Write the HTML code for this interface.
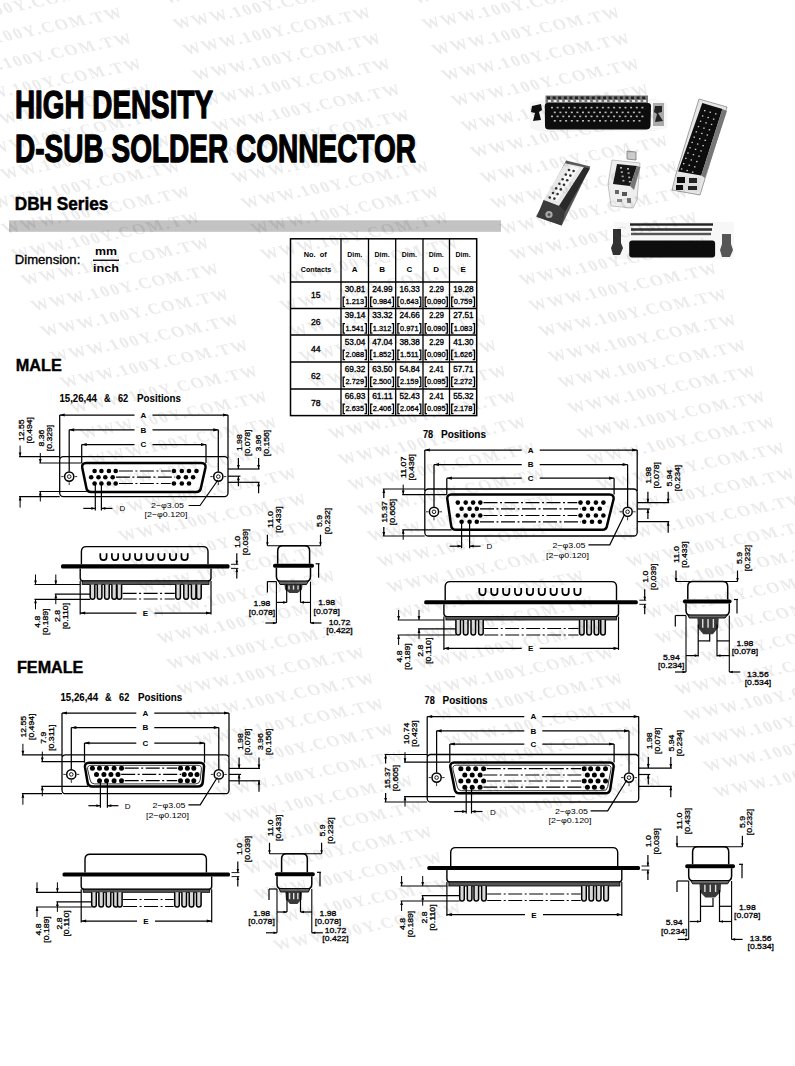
<!DOCTYPE html>
<html><head><meta charset="utf-8"><style>
html,body{margin:0;padding:0;background:#fff;width:795px;height:1066px;overflow:hidden}
</style></head><body><svg width="795" height="1066" viewBox="0 0 795 1066" style="position:absolute;left:0;top:0"><g stroke="#000" stroke-width="1.3" stroke-linejoin="round"><text x="15" y="117.5" style='font-family:"Liberation Sans";font-size:38px;font-weight:bold' text-anchor="start" fill="#000" textLength="198" lengthAdjust="spacingAndGlyphs" >HIGH DENSITY</text><text x="15" y="162" style='font-family:"Liberation Sans";font-size:39px;font-weight:bold' text-anchor="start" fill="#000" textLength="401" lengthAdjust="spacingAndGlyphs" >D-SUB SOLDER CONNECTOR</text></g><g stroke="#000" stroke-width="0.5"><text x="14.8" y="210" style='font-family:"Liberation Sans";font-size:18.5px;font-weight:bold' text-anchor="start" fill="#000" textLength="93.5" lengthAdjust="spacingAndGlyphs" >DBH Series</text></g><rect x="9" y="220.3" width="492" height="11.5" fill="#c3c3c3"/><text x="14.8" y="264" style='font-family:"Liberation Sans";font-size:12.5px;font-weight:normal' text-anchor="start" fill="#000" textLength="65.5" lengthAdjust="spacingAndGlyphs" stroke="#000" stroke-width="0.35">Dimension:</text><text x="95" y="254.8" style='font-family:"Liberation Sans";font-size:10.5px;font-weight:bold' text-anchor="start" fill="#000" textLength="22" lengthAdjust="spacingAndGlyphs" >mm</text><rect x="93" y="259.6" width="26" height="1.3" fill="#000"/><text x="93" y="271.7" style='font-family:"Liberation Sans";font-size:11.5px;font-weight:bold' text-anchor="start" fill="#000" textLength="26" lengthAdjust="spacingAndGlyphs" >inch</text><g stroke="#000" stroke-width="0.4"><text x="15.8" y="371" style='font-family:"Liberation Sans";font-size:17px;font-weight:bold' text-anchor="start" fill="#000" textLength="46" lengthAdjust="spacingAndGlyphs" >MALE</text><text x="17" y="672.7" style='font-family:"Liberation Sans";font-size:17px;font-weight:bold' text-anchor="start" fill="#000" textLength="66.4" lengthAdjust="spacingAndGlyphs" >FEMALE</text></g><text x="59.4" y="402.2" style='font-family:"Liberation Sans";font-size:11px;font-weight:bold' text-anchor="start" fill="#000" textLength="37.6" lengthAdjust="spacingAndGlyphs" stroke="#000" stroke-width="0.1">15,26,44</text><text x="104" y="402.2" style='font-family:"Liberation Sans";font-size:11px;font-weight:bold' text-anchor="start" fill="#000" textLength="6.5" lengthAdjust="spacingAndGlyphs" stroke="#000" stroke-width="0.1">&amp;</text><text x="118" y="402.2" style='font-family:"Liberation Sans";font-size:11px;font-weight:bold' text-anchor="start" fill="#000" textLength="10.2" lengthAdjust="spacingAndGlyphs" stroke="#000" stroke-width="0.1">62</text><text x="137" y="402.2" style='font-family:"Liberation Sans";font-size:11px;font-weight:bold' text-anchor="start" fill="#000" textLength="44" lengthAdjust="spacingAndGlyphs" stroke="#000" stroke-width="0.1">Positions</text><text x="60.5" y="700.6" style='font-family:"Liberation Sans";font-size:11px;font-weight:bold' text-anchor="start" fill="#000" textLength="37.6" lengthAdjust="spacingAndGlyphs" stroke="#000" stroke-width="0.1">15,26,44</text><text x="105.1" y="700.6" style='font-family:"Liberation Sans";font-size:11px;font-weight:bold' text-anchor="start" fill="#000" textLength="6.5" lengthAdjust="spacingAndGlyphs" stroke="#000" stroke-width="0.1">&amp;</text><text x="119.1" y="700.6" style='font-family:"Liberation Sans";font-size:11px;font-weight:bold' text-anchor="start" fill="#000" textLength="10.2" lengthAdjust="spacingAndGlyphs" stroke="#000" stroke-width="0.1">62</text><text x="138.1" y="700.6" style='font-family:"Liberation Sans";font-size:11px;font-weight:bold' text-anchor="start" fill="#000" textLength="44" lengthAdjust="spacingAndGlyphs" stroke="#000" stroke-width="0.1">Positions</text><text x="423" y="437.6" style='font-family:"Liberation Sans";font-size:11px;font-weight:bold' text-anchor="start" fill="#000" textLength="10.2" lengthAdjust="spacingAndGlyphs" stroke="#000" stroke-width="0.1">78</text><text x="441" y="437.6" style='font-family:"Liberation Sans";font-size:11px;font-weight:bold' text-anchor="start" fill="#000" textLength="45" lengthAdjust="spacingAndGlyphs" stroke="#000" stroke-width="0.1">Positions</text><text x="424.6" y="704.2" style='font-family:"Liberation Sans";font-size:11px;font-weight:bold' text-anchor="start" fill="#000" textLength="10.2" lengthAdjust="spacingAndGlyphs" stroke="#000" stroke-width="0.1">78</text><text x="442.6" y="704.2" style='font-family:"Liberation Sans";font-size:11px;font-weight:bold' text-anchor="start" fill="#000" textLength="45" lengthAdjust="spacingAndGlyphs" stroke="#000" stroke-width="0.1">Positions</text><rect x="290.5" y="238.8" width="186.2" height="176.8" fill="none" stroke="#000" stroke-width="1.5"/><line x1="341" y1="238.8" x2="341" y2="415.6" stroke="#000" stroke-width="1.3"/><line x1="368.5" y1="238.8" x2="368.5" y2="415.6" stroke="#000" stroke-width="1.3"/><line x1="395.7" y1="238.8" x2="395.7" y2="415.6" stroke="#000" stroke-width="1.3"/><line x1="423" y1="238.8" x2="423" y2="415.6" stroke="#000" stroke-width="1.3"/><line x1="449.5" y1="238.8" x2="449.5" y2="415.6" stroke="#000" stroke-width="1.3"/><line x1="290.5" y1="282" x2="476.7" y2="282" stroke="#000" stroke-width="1.3"/><line x1="290.5" y1="308.5" x2="476.7" y2="308.5" stroke="#000" stroke-width="1.3"/><line x1="290.5" y1="335" x2="476.7" y2="335" stroke="#000" stroke-width="1.3"/><line x1="290.5" y1="362" x2="476.7" y2="362" stroke="#000" stroke-width="1.3"/><line x1="290.5" y1="389" x2="476.7" y2="389" stroke="#000" stroke-width="1.3"/><text x="315.25" y="256.6" style='font-family:"Liberation Sans";font-size:8px;font-weight:bold' text-anchor="middle" fill="#000" textLength="23" lengthAdjust="spacingAndGlyphs" >No.&#160;&#160;of</text><text x="316.05" y="271.6" style='font-family:"Liberation Sans";font-size:8px;font-weight:bold' text-anchor="middle" fill="#000" textLength="30.5" lengthAdjust="spacingAndGlyphs" >Contacts</text><text x="354.75" y="256.6" style='font-family:"Liberation Sans";font-size:8px;font-weight:bold' text-anchor="middle" fill="#000" textLength="15" lengthAdjust="spacingAndGlyphs" >Dim.</text><text x="354.75" y="271.6" style='font-family:"Liberation Sans";font-size:8px;font-weight:bold' text-anchor="middle" fill="#000" >A</text><text x="382.1" y="256.6" style='font-family:"Liberation Sans";font-size:8px;font-weight:bold' text-anchor="middle" fill="#000" textLength="15" lengthAdjust="spacingAndGlyphs" >Dim.</text><text x="382.1" y="271.6" style='font-family:"Liberation Sans";font-size:8px;font-weight:bold' text-anchor="middle" fill="#000" >B</text><text x="409.35" y="256.6" style='font-family:"Liberation Sans";font-size:8px;font-weight:bold' text-anchor="middle" fill="#000" textLength="15" lengthAdjust="spacingAndGlyphs" >Dim.</text><text x="409.35" y="271.6" style='font-family:"Liberation Sans";font-size:8px;font-weight:bold' text-anchor="middle" fill="#000" >C</text><text x="436.25" y="256.6" style='font-family:"Liberation Sans";font-size:8px;font-weight:bold' text-anchor="middle" fill="#000" textLength="15" lengthAdjust="spacingAndGlyphs" >Dim.</text><text x="436.25" y="271.6" style='font-family:"Liberation Sans";font-size:8px;font-weight:bold' text-anchor="middle" fill="#000" >D</text><text x="463.1" y="256.6" style='font-family:"Liberation Sans";font-size:8px;font-weight:bold' text-anchor="middle" fill="#000" textLength="15" lengthAdjust="spacingAndGlyphs" >Dim.</text><text x="463.1" y="271.6" style='font-family:"Liberation Sans";font-size:8px;font-weight:bold' text-anchor="middle" fill="#000" >E</text><text x="315.75" y="298.45" style='font-family:"Liberation Sans";font-size:8.6px;font-weight:normal' text-anchor="middle" fill="#000" stroke="#000" stroke-width="0.35">15</text><text x="355.05" y="291.8" style='font-family:"Liberation Sans";font-size:8.2px;font-weight:normal' text-anchor="middle" fill="#000" textLength="20.5" lengthAdjust="spacingAndGlyphs" stroke="#000" stroke-width="0.35">30.81</text><text x="354.75" y="304" style='font-family:"Liberation Sans";font-size:7.2px;font-weight:normal' text-anchor="middle" fill="#000" textLength="18.5" lengthAdjust="spacingAndGlyphs" stroke="#000" stroke-width="0.3">1.213</text><path d="M345,297.2 L343.2,297.2 L343.2,306.6 L345,306.6" stroke="#000" stroke-width="1.3" fill="none" /><path d="M364.5,297.2 L366.3,297.2 L366.3,306.6 L364.5,306.6" stroke="#000" stroke-width="1.3" fill="none" /><text x="382.4" y="291.8" style='font-family:"Liberation Sans";font-size:8.2px;font-weight:normal' text-anchor="middle" fill="#000" textLength="20.5" lengthAdjust="spacingAndGlyphs" stroke="#000" stroke-width="0.35">24.99</text><text x="382.1" y="304" style='font-family:"Liberation Sans";font-size:7.2px;font-weight:normal' text-anchor="middle" fill="#000" textLength="18.5" lengthAdjust="spacingAndGlyphs" stroke="#000" stroke-width="0.3">0.984</text><path d="M372.5,297.2 L370.7,297.2 L370.7,306.6 L372.5,306.6" stroke="#000" stroke-width="1.3" fill="none" /><path d="M391.7,297.2 L393.5,297.2 L393.5,306.6 L391.7,306.6" stroke="#000" stroke-width="1.3" fill="none" /><text x="409.65" y="291.8" style='font-family:"Liberation Sans";font-size:8.2px;font-weight:normal' text-anchor="middle" fill="#000" textLength="20.5" lengthAdjust="spacingAndGlyphs" stroke="#000" stroke-width="0.35">16.33</text><text x="409.35" y="304" style='font-family:"Liberation Sans";font-size:7.2px;font-weight:normal' text-anchor="middle" fill="#000" textLength="18.5" lengthAdjust="spacingAndGlyphs" stroke="#000" stroke-width="0.3">0.643</text><path d="M399.7,297.2 L397.9,297.2 L397.9,306.6 L399.7,306.6" stroke="#000" stroke-width="1.3" fill="none" /><path d="M419,297.2 L420.8,297.2 L420.8,306.6 L419,306.6" stroke="#000" stroke-width="1.3" fill="none" /><text x="436.55" y="291.8" style='font-family:"Liberation Sans";font-size:8.2px;font-weight:normal' text-anchor="middle" fill="#000" textLength="14.5" lengthAdjust="spacingAndGlyphs" stroke="#000" stroke-width="0.35">2.29</text><text x="436.25" y="304" style='font-family:"Liberation Sans";font-size:7.2px;font-weight:normal' text-anchor="middle" fill="#000" textLength="18.5" lengthAdjust="spacingAndGlyphs" stroke="#000" stroke-width="0.3">0.090</text><path d="M427,297.2 L425.2,297.2 L425.2,306.6 L427,306.6" stroke="#000" stroke-width="1.3" fill="none" /><path d="M445.5,297.2 L447.3,297.2 L447.3,306.6 L445.5,306.6" stroke="#000" stroke-width="1.3" fill="none" /><text x="463.4" y="291.8" style='font-family:"Liberation Sans";font-size:8.2px;font-weight:normal' text-anchor="middle" fill="#000" textLength="20.5" lengthAdjust="spacingAndGlyphs" stroke="#000" stroke-width="0.35">19.28</text><text x="463.1" y="304" style='font-family:"Liberation Sans";font-size:7.2px;font-weight:normal' text-anchor="middle" fill="#000" textLength="18.5" lengthAdjust="spacingAndGlyphs" stroke="#000" stroke-width="0.3">0.759</text><path d="M453.5,297.2 L451.7,297.2 L451.7,306.6 L453.5,306.6" stroke="#000" stroke-width="1.3" fill="none" /><path d="M472.7,297.2 L474.5,297.2 L474.5,306.6 L472.7,306.6" stroke="#000" stroke-width="1.3" fill="none" /><text x="315.75" y="324.95" style='font-family:"Liberation Sans";font-size:8.6px;font-weight:normal' text-anchor="middle" fill="#000" stroke="#000" stroke-width="0.35">26</text><text x="355.05" y="318.3" style='font-family:"Liberation Sans";font-size:8.2px;font-weight:normal' text-anchor="middle" fill="#000" textLength="20.5" lengthAdjust="spacingAndGlyphs" stroke="#000" stroke-width="0.35">39.14</text><text x="354.75" y="330.5" style='font-family:"Liberation Sans";font-size:7.2px;font-weight:normal' text-anchor="middle" fill="#000" textLength="18.5" lengthAdjust="spacingAndGlyphs" stroke="#000" stroke-width="0.3">1.541</text><path d="M345,323.7 L343.2,323.7 L343.2,333.1 L345,333.1" stroke="#000" stroke-width="1.3" fill="none" /><path d="M364.5,323.7 L366.3,323.7 L366.3,333.1 L364.5,333.1" stroke="#000" stroke-width="1.3" fill="none" /><text x="382.4" y="318.3" style='font-family:"Liberation Sans";font-size:8.2px;font-weight:normal' text-anchor="middle" fill="#000" textLength="20.5" lengthAdjust="spacingAndGlyphs" stroke="#000" stroke-width="0.35">33.32</text><text x="382.1" y="330.5" style='font-family:"Liberation Sans";font-size:7.2px;font-weight:normal' text-anchor="middle" fill="#000" textLength="18.5" lengthAdjust="spacingAndGlyphs" stroke="#000" stroke-width="0.3">1.312</text><path d="M372.5,323.7 L370.7,323.7 L370.7,333.1 L372.5,333.1" stroke="#000" stroke-width="1.3" fill="none" /><path d="M391.7,323.7 L393.5,323.7 L393.5,333.1 L391.7,333.1" stroke="#000" stroke-width="1.3" fill="none" /><text x="409.65" y="318.3" style='font-family:"Liberation Sans";font-size:8.2px;font-weight:normal' text-anchor="middle" fill="#000" textLength="20.5" lengthAdjust="spacingAndGlyphs" stroke="#000" stroke-width="0.35">24.66</text><text x="409.35" y="330.5" style='font-family:"Liberation Sans";font-size:7.2px;font-weight:normal' text-anchor="middle" fill="#000" textLength="18.5" lengthAdjust="spacingAndGlyphs" stroke="#000" stroke-width="0.3">0.971</text><path d="M399.7,323.7 L397.9,323.7 L397.9,333.1 L399.7,333.1" stroke="#000" stroke-width="1.3" fill="none" /><path d="M419,323.7 L420.8,323.7 L420.8,333.1 L419,333.1" stroke="#000" stroke-width="1.3" fill="none" /><text x="436.55" y="318.3" style='font-family:"Liberation Sans";font-size:8.2px;font-weight:normal' text-anchor="middle" fill="#000" textLength="14.5" lengthAdjust="spacingAndGlyphs" stroke="#000" stroke-width="0.35">2.29</text><text x="436.25" y="330.5" style='font-family:"Liberation Sans";font-size:7.2px;font-weight:normal' text-anchor="middle" fill="#000" textLength="18.5" lengthAdjust="spacingAndGlyphs" stroke="#000" stroke-width="0.3">0.090</text><path d="M427,323.7 L425.2,323.7 L425.2,333.1 L427,333.1" stroke="#000" stroke-width="1.3" fill="none" /><path d="M445.5,323.7 L447.3,323.7 L447.3,333.1 L445.5,333.1" stroke="#000" stroke-width="1.3" fill="none" /><text x="463.4" y="318.3" style='font-family:"Liberation Sans";font-size:8.2px;font-weight:normal' text-anchor="middle" fill="#000" textLength="20.5" lengthAdjust="spacingAndGlyphs" stroke="#000" stroke-width="0.35">27.51</text><text x="463.1" y="330.5" style='font-family:"Liberation Sans";font-size:7.2px;font-weight:normal' text-anchor="middle" fill="#000" textLength="18.5" lengthAdjust="spacingAndGlyphs" stroke="#000" stroke-width="0.3">1.083</text><path d="M453.5,323.7 L451.7,323.7 L451.7,333.1 L453.5,333.1" stroke="#000" stroke-width="1.3" fill="none" /><path d="M472.7,323.7 L474.5,323.7 L474.5,333.1 L472.7,333.1" stroke="#000" stroke-width="1.3" fill="none" /><text x="315.75" y="351.7" style='font-family:"Liberation Sans";font-size:8.6px;font-weight:normal' text-anchor="middle" fill="#000" stroke="#000" stroke-width="0.35">44</text><text x="355.05" y="344.8" style='font-family:"Liberation Sans";font-size:8.2px;font-weight:normal' text-anchor="middle" fill="#000" textLength="20.5" lengthAdjust="spacingAndGlyphs" stroke="#000" stroke-width="0.35">53.04</text><text x="354.75" y="357" style='font-family:"Liberation Sans";font-size:7.2px;font-weight:normal' text-anchor="middle" fill="#000" textLength="18.5" lengthAdjust="spacingAndGlyphs" stroke="#000" stroke-width="0.3">2.088</text><path d="M345,350.2 L343.2,350.2 L343.2,359.6 L345,359.6" stroke="#000" stroke-width="1.3" fill="none" /><path d="M364.5,350.2 L366.3,350.2 L366.3,359.6 L364.5,359.6" stroke="#000" stroke-width="1.3" fill="none" /><text x="382.4" y="344.8" style='font-family:"Liberation Sans";font-size:8.2px;font-weight:normal' text-anchor="middle" fill="#000" textLength="20.5" lengthAdjust="spacingAndGlyphs" stroke="#000" stroke-width="0.35">47.04</text><text x="382.1" y="357" style='font-family:"Liberation Sans";font-size:7.2px;font-weight:normal' text-anchor="middle" fill="#000" textLength="18.5" lengthAdjust="spacingAndGlyphs" stroke="#000" stroke-width="0.3">1.852</text><path d="M372.5,350.2 L370.7,350.2 L370.7,359.6 L372.5,359.6" stroke="#000" stroke-width="1.3" fill="none" /><path d="M391.7,350.2 L393.5,350.2 L393.5,359.6 L391.7,359.6" stroke="#000" stroke-width="1.3" fill="none" /><text x="409.65" y="344.8" style='font-family:"Liberation Sans";font-size:8.2px;font-weight:normal' text-anchor="middle" fill="#000" textLength="20.5" lengthAdjust="spacingAndGlyphs" stroke="#000" stroke-width="0.35">38.38</text><text x="409.35" y="357" style='font-family:"Liberation Sans";font-size:7.2px;font-weight:normal' text-anchor="middle" fill="#000" textLength="18.5" lengthAdjust="spacingAndGlyphs" stroke="#000" stroke-width="0.3">1.511</text><path d="M399.7,350.2 L397.9,350.2 L397.9,359.6 L399.7,359.6" stroke="#000" stroke-width="1.3" fill="none" /><path d="M419,350.2 L420.8,350.2 L420.8,359.6 L419,359.6" stroke="#000" stroke-width="1.3" fill="none" /><text x="436.55" y="344.8" style='font-family:"Liberation Sans";font-size:8.2px;font-weight:normal' text-anchor="middle" fill="#000" textLength="14.5" lengthAdjust="spacingAndGlyphs" stroke="#000" stroke-width="0.35">2.29</text><text x="436.25" y="357" style='font-family:"Liberation Sans";font-size:7.2px;font-weight:normal' text-anchor="middle" fill="#000" textLength="18.5" lengthAdjust="spacingAndGlyphs" stroke="#000" stroke-width="0.3">0.090</text><path d="M427,350.2 L425.2,350.2 L425.2,359.6 L427,359.6" stroke="#000" stroke-width="1.3" fill="none" /><path d="M445.5,350.2 L447.3,350.2 L447.3,359.6 L445.5,359.6" stroke="#000" stroke-width="1.3" fill="none" /><text x="463.4" y="344.8" style='font-family:"Liberation Sans";font-size:8.2px;font-weight:normal' text-anchor="middle" fill="#000" textLength="20.5" lengthAdjust="spacingAndGlyphs" stroke="#000" stroke-width="0.35">41.30</text><text x="463.1" y="357" style='font-family:"Liberation Sans";font-size:7.2px;font-weight:normal' text-anchor="middle" fill="#000" textLength="18.5" lengthAdjust="spacingAndGlyphs" stroke="#000" stroke-width="0.3">1.626</text><path d="M453.5,350.2 L451.7,350.2 L451.7,359.6 L453.5,359.6" stroke="#000" stroke-width="1.3" fill="none" /><path d="M472.7,350.2 L474.5,350.2 L474.5,359.6 L472.7,359.6" stroke="#000" stroke-width="1.3" fill="none" /><text x="315.75" y="378.7" style='font-family:"Liberation Sans";font-size:8.6px;font-weight:normal' text-anchor="middle" fill="#000" stroke="#000" stroke-width="0.35">62</text><text x="355.05" y="371.8" style='font-family:"Liberation Sans";font-size:8.2px;font-weight:normal' text-anchor="middle" fill="#000" textLength="20.5" lengthAdjust="spacingAndGlyphs" stroke="#000" stroke-width="0.35">69.32</text><text x="354.75" y="384" style='font-family:"Liberation Sans";font-size:7.2px;font-weight:normal' text-anchor="middle" fill="#000" textLength="18.5" lengthAdjust="spacingAndGlyphs" stroke="#000" stroke-width="0.3">2.729</text><path d="M345,377.2 L343.2,377.2 L343.2,386.6 L345,386.6" stroke="#000" stroke-width="1.3" fill="none" /><path d="M364.5,377.2 L366.3,377.2 L366.3,386.6 L364.5,386.6" stroke="#000" stroke-width="1.3" fill="none" /><text x="382.4" y="371.8" style='font-family:"Liberation Sans";font-size:8.2px;font-weight:normal' text-anchor="middle" fill="#000" textLength="20.5" lengthAdjust="spacingAndGlyphs" stroke="#000" stroke-width="0.35">63.50</text><text x="382.1" y="384" style='font-family:"Liberation Sans";font-size:7.2px;font-weight:normal' text-anchor="middle" fill="#000" textLength="18.5" lengthAdjust="spacingAndGlyphs" stroke="#000" stroke-width="0.3">2.500</text><path d="M372.5,377.2 L370.7,377.2 L370.7,386.6 L372.5,386.6" stroke="#000" stroke-width="1.3" fill="none" /><path d="M391.7,377.2 L393.5,377.2 L393.5,386.6 L391.7,386.6" stroke="#000" stroke-width="1.3" fill="none" /><text x="409.65" y="371.8" style='font-family:"Liberation Sans";font-size:8.2px;font-weight:normal' text-anchor="middle" fill="#000" textLength="20.5" lengthAdjust="spacingAndGlyphs" stroke="#000" stroke-width="0.35">54.84</text><text x="409.35" y="384" style='font-family:"Liberation Sans";font-size:7.2px;font-weight:normal' text-anchor="middle" fill="#000" textLength="18.5" lengthAdjust="spacingAndGlyphs" stroke="#000" stroke-width="0.3">2.159</text><path d="M399.7,377.2 L397.9,377.2 L397.9,386.6 L399.7,386.6" stroke="#000" stroke-width="1.3" fill="none" /><path d="M419,377.2 L420.8,377.2 L420.8,386.6 L419,386.6" stroke="#000" stroke-width="1.3" fill="none" /><text x="436.55" y="371.8" style='font-family:"Liberation Sans";font-size:8.2px;font-weight:normal' text-anchor="middle" fill="#000" textLength="14.5" lengthAdjust="spacingAndGlyphs" stroke="#000" stroke-width="0.35">2.41</text><text x="436.25" y="384" style='font-family:"Liberation Sans";font-size:7.2px;font-weight:normal' text-anchor="middle" fill="#000" textLength="18.5" lengthAdjust="spacingAndGlyphs" stroke="#000" stroke-width="0.3">0.095</text><path d="M427,377.2 L425.2,377.2 L425.2,386.6 L427,386.6" stroke="#000" stroke-width="1.3" fill="none" /><path d="M445.5,377.2 L447.3,377.2 L447.3,386.6 L445.5,386.6" stroke="#000" stroke-width="1.3" fill="none" /><text x="463.4" y="371.8" style='font-family:"Liberation Sans";font-size:8.2px;font-weight:normal' text-anchor="middle" fill="#000" textLength="20.5" lengthAdjust="spacingAndGlyphs" stroke="#000" stroke-width="0.35">57.71</text><text x="463.1" y="384" style='font-family:"Liberation Sans";font-size:7.2px;font-weight:normal' text-anchor="middle" fill="#000" textLength="18.5" lengthAdjust="spacingAndGlyphs" stroke="#000" stroke-width="0.3">2.272</text><path d="M453.5,377.2 L451.7,377.2 L451.7,386.6 L453.5,386.6" stroke="#000" stroke-width="1.3" fill="none" /><path d="M472.7,377.2 L474.5,377.2 L474.5,386.6 L472.7,386.6" stroke="#000" stroke-width="1.3" fill="none" /><text x="315.75" y="405.5" style='font-family:"Liberation Sans";font-size:8.6px;font-weight:normal' text-anchor="middle" fill="#000" stroke="#000" stroke-width="0.35">78</text><text x="355.05" y="398.8" style='font-family:"Liberation Sans";font-size:8.2px;font-weight:normal' text-anchor="middle" fill="#000" textLength="20.5" lengthAdjust="spacingAndGlyphs" stroke="#000" stroke-width="0.35">66.93</text><text x="354.75" y="411" style='font-family:"Liberation Sans";font-size:7.2px;font-weight:normal' text-anchor="middle" fill="#000" textLength="18.5" lengthAdjust="spacingAndGlyphs" stroke="#000" stroke-width="0.3">2.635</text><path d="M345,404.2 L343.2,404.2 L343.2,413.6 L345,413.6" stroke="#000" stroke-width="1.3" fill="none" /><path d="M364.5,404.2 L366.3,404.2 L366.3,413.6 L364.5,413.6" stroke="#000" stroke-width="1.3" fill="none" /><text x="382.4" y="398.8" style='font-family:"Liberation Sans";font-size:8.2px;font-weight:normal' text-anchor="middle" fill="#000" textLength="20.5" lengthAdjust="spacingAndGlyphs" stroke="#000" stroke-width="0.35">61.11</text><text x="382.1" y="411" style='font-family:"Liberation Sans";font-size:7.2px;font-weight:normal' text-anchor="middle" fill="#000" textLength="18.5" lengthAdjust="spacingAndGlyphs" stroke="#000" stroke-width="0.3">2.406</text><path d="M372.5,404.2 L370.7,404.2 L370.7,413.6 L372.5,413.6" stroke="#000" stroke-width="1.3" fill="none" /><path d="M391.7,404.2 L393.5,404.2 L393.5,413.6 L391.7,413.6" stroke="#000" stroke-width="1.3" fill="none" /><text x="409.65" y="398.8" style='font-family:"Liberation Sans";font-size:8.2px;font-weight:normal' text-anchor="middle" fill="#000" textLength="20.5" lengthAdjust="spacingAndGlyphs" stroke="#000" stroke-width="0.35">52.43</text><text x="409.35" y="411" style='font-family:"Liberation Sans";font-size:7.2px;font-weight:normal' text-anchor="middle" fill="#000" textLength="18.5" lengthAdjust="spacingAndGlyphs" stroke="#000" stroke-width="0.3">2.064</text><path d="M399.7,404.2 L397.9,404.2 L397.9,413.6 L399.7,413.6" stroke="#000" stroke-width="1.3" fill="none" /><path d="M419,404.2 L420.8,404.2 L420.8,413.6 L419,413.6" stroke="#000" stroke-width="1.3" fill="none" /><text x="436.55" y="398.8" style='font-family:"Liberation Sans";font-size:8.2px;font-weight:normal' text-anchor="middle" fill="#000" textLength="14.5" lengthAdjust="spacingAndGlyphs" stroke="#000" stroke-width="0.35">2.41</text><text x="436.25" y="411" style='font-family:"Liberation Sans";font-size:7.2px;font-weight:normal' text-anchor="middle" fill="#000" textLength="18.5" lengthAdjust="spacingAndGlyphs" stroke="#000" stroke-width="0.3">0.095</text><path d="M427,404.2 L425.2,404.2 L425.2,413.6 L427,413.6" stroke="#000" stroke-width="1.3" fill="none" /><path d="M445.5,404.2 L447.3,404.2 L447.3,413.6 L445.5,413.6" stroke="#000" stroke-width="1.3" fill="none" /><text x="463.4" y="398.8" style='font-family:"Liberation Sans";font-size:8.2px;font-weight:normal' text-anchor="middle" fill="#000" textLength="20.5" lengthAdjust="spacingAndGlyphs" stroke="#000" stroke-width="0.35">55.32</text><text x="463.1" y="411" style='font-family:"Liberation Sans";font-size:7.2px;font-weight:normal' text-anchor="middle" fill="#000" textLength="18.5" lengthAdjust="spacingAndGlyphs" stroke="#000" stroke-width="0.3">2.178</text><path d="M453.5,404.2 L451.7,404.2 L451.7,413.6 L453.5,413.6" stroke="#000" stroke-width="1.3" fill="none" /><path d="M472.7,404.2 L474.5,404.2 L474.5,413.6 L472.7,413.6" stroke="#000" stroke-width="1.3" fill="none" /><rect x="59.7" y="456.6" width="168.3" height="40" rx="3.5" fill="none" stroke="#000" stroke-width="1.3"/><path d="M86.2,463 L201.5,463 Q206,463 205.5,467.5 L201,487.5 Q200.5,492 196,492 L91.3,492 Q86.8,492 86.3,487.5 L82.2,467.5 Q81.7,463 86.2,463 Z" stroke="#000" stroke-width="2.5" fill="none" /><circle cx="69.2" cy="476.6" r="4.6" fill="none" stroke="#000" stroke-width="1.5"/><circle cx="69.2" cy="476.6" r="1.8" fill="none" stroke="#000" stroke-width="0.9"/><circle cx="218.3" cy="476.6" r="4.6" fill="none" stroke="#000" stroke-width="1.5"/><circle cx="218.3" cy="476.6" r="1.8" fill="none" stroke="#000" stroke-width="0.9"/><line x1="61.2" y1="476.6" x2="63.7" y2="476.6" stroke="#000" stroke-width="0.8"/><line x1="74.7" y1="476.6" x2="77.2" y2="476.6" stroke="#000" stroke-width="0.8"/><line x1="69.2" y1="482.1" x2="69.2" y2="485.1" stroke="#000" stroke-width="0.8"/><line x1="210.3" y1="476.6" x2="212.8" y2="476.6" stroke="#000" stroke-width="0.8"/><line x1="223.8" y1="476.6" x2="226.3" y2="476.6" stroke="#000" stroke-width="0.8"/><line x1="218.3" y1="482.1" x2="218.3" y2="485.1" stroke="#000" stroke-width="0.8"/><circle cx="94.6" cy="471" r="2.3" fill="#000"/><circle cx="101.4" cy="471" r="2.3" fill="#000"/><circle cx="108.9" cy="471" r="2.3" fill="#000"/><circle cx="115.7" cy="471" r="2.3" fill="#000"/><circle cx="173.9" cy="471" r="2.3" fill="#000"/><circle cx="181.8" cy="471" r="2.3" fill="#000"/><circle cx="189" cy="471" r="2.3" fill="#000"/><circle cx="196.5" cy="471" r="2.3" fill="#000"/><line x1="118.9" y1="471" x2="170.7" y2="471" stroke="#000" stroke-width="1.2" stroke-dasharray="14 2.5 2 2.5"/><circle cx="91.2" cy="477.2" r="2.3" fill="#000"/><circle cx="98.5" cy="477.2" r="2.3" fill="#000"/><circle cx="105.3" cy="477.2" r="2.3" fill="#000"/><circle cx="112.7" cy="477.2" r="2.3" fill="#000"/><circle cx="178.4" cy="477.2" r="2.3" fill="#000"/><circle cx="185.9" cy="477.2" r="2.3" fill="#000"/><circle cx="193.1" cy="477.2" r="2.3" fill="#000"/><line x1="115.9" y1="477.2" x2="175.2" y2="477.2" stroke="#000" stroke-width="1.2" stroke-dasharray="14 2.5 2 2.5"/><circle cx="94.6" cy="483.5" r="2.3" fill="#000"/><circle cx="101.4" cy="483.5" r="2.3" fill="#000"/><circle cx="108.9" cy="483.5" r="2.3" fill="#000"/><circle cx="115.7" cy="483.5" r="2.3" fill="#000"/><circle cx="173.9" cy="483.5" r="2.3" fill="#000"/><circle cx="181.8" cy="483.5" r="2.3" fill="#000"/><circle cx="189" cy="483.5" r="2.3" fill="#000"/><line x1="118.9" y1="483.5" x2="170.7" y2="483.5" stroke="#000" stroke-width="1.2" stroke-dasharray="14 2.5 2 2.5"/><line x1="59.7" y1="415" x2="134.5" y2="415" stroke="#000" stroke-width="1.25"/><line x1="152.5" y1="415" x2="228" y2="415" stroke="#000" stroke-width="1.25"/><path d="M59.7,415 L64.7,413.4 L64.7,416.6 Z" fill="#000"/><path d="M228,415 L223,416.6 L223,413.4 Z" fill="#000"/><text x="143.5" y="417.9" style='font-family:"Liberation Sans";font-size:8px;font-weight:bold' text-anchor="middle" fill="#000" >A</text><line x1="59.7" y1="415" x2="59.7" y2="458.6" stroke="#000" stroke-width="1.25"/><line x1="228" y1="415" x2="228" y2="458.6" stroke="#000" stroke-width="1.25"/><line x1="69.2" y1="429.8" x2="134.5" y2="429.8" stroke="#000" stroke-width="1.25"/><line x1="152.5" y1="429.8" x2="218.3" y2="429.8" stroke="#000" stroke-width="1.25"/><path d="M69.2,429.8 L74.2,428.2 L74.2,431.4 Z" fill="#000"/><path d="M218.3,429.8 L213.3,431.4 L213.3,428.2 Z" fill="#000"/><text x="143.5" y="432.7" style='font-family:"Liberation Sans";font-size:8px;font-weight:bold' text-anchor="middle" fill="#000" >B</text><line x1="69.2" y1="429.8" x2="69.2" y2="471.6" stroke="#000" stroke-width="1.25"/><line x1="218.3" y1="429.8" x2="218.3" y2="471.6" stroke="#000" stroke-width="1.25"/><line x1="81.7" y1="444.5" x2="134.5" y2="444.5" stroke="#000" stroke-width="1.25"/><line x1="152.5" y1="444.5" x2="206" y2="444.5" stroke="#000" stroke-width="1.25"/><path d="M81.7,444.5 L86.7,442.9 L86.7,446.1 Z" fill="#000"/><path d="M206,444.5 L201,446.1 L201,442.9 Z" fill="#000"/><text x="143.5" y="447.4" style='font-family:"Liberation Sans";font-size:8px;font-weight:bold' text-anchor="middle" fill="#000" >C</text><line x1="81.7" y1="444.5" x2="81.7" y2="463" stroke="#000" stroke-width="1.25"/><line x1="206" y1="444.5" x2="206" y2="463" stroke="#000" stroke-width="1.25"/><line x1="19.1" y1="456.6" x2="59.7" y2="456.6" stroke="#000" stroke-width="1.2"/><line x1="19.1" y1="496.6" x2="59.7" y2="496.6" stroke="#000" stroke-width="1.2"/><line x1="39.3" y1="463" x2="81.7" y2="463" stroke="#000" stroke-width="1.2"/><line x1="39.3" y1="491.5" x2="86.8" y2="491.5" stroke="#000" stroke-width="1.2"/><line x1="20.1" y1="445.6" x2="20.1" y2="456.6" stroke="#000" stroke-width="1"/><path d="M20.1,456.6 L18.7,452.6 L21.5,452.6 Z" fill="#000"/><line x1="20.1" y1="496.6" x2="20.1" y2="507.6" stroke="#000" stroke-width="1"/><path d="M20.1,496.6 L21.5,500.6 L18.7,500.6 Z" fill="#000"/><line x1="40.3" y1="453" x2="40.3" y2="463" stroke="#000" stroke-width="1"/><path d="M40.3,463 L38.9,459 L41.7,459 Z" fill="#000"/><line x1="40.3" y1="491.5" x2="40.3" y2="501.5" stroke="#000" stroke-width="1"/><path d="M40.3,491.5 L41.7,495.5 L38.9,495.5 Z" fill="#000"/><g transform="translate(25.3,430.2) rotate(-90)"><text x="0" y="-1.02" style='font-family:"Liberation Sans";font-size:8px;font-weight:normal' text-anchor="middle" fill="#000" textLength="21.62" lengthAdjust="spacingAndGlyphs" stroke="#000" stroke-width="0.3">12.55</text><text x="0" y="6.78" style='font-family:"Liberation Sans";font-size:8px;font-weight:normal' text-anchor="middle" fill="#000" textLength="26.42" lengthAdjust="spacingAndGlyphs" stroke="#000" stroke-width="0.3">[0.494]</text></g><g transform="translate(45,438) rotate(-90)"><text x="0" y="-1.02" style='font-family:"Liberation Sans";font-size:8px;font-weight:normal' text-anchor="middle" fill="#000" textLength="16.81" lengthAdjust="spacingAndGlyphs" stroke="#000" stroke-width="0.3">8.36</text><text x="0" y="6.78" style='font-family:"Liberation Sans";font-size:8px;font-weight:normal' text-anchor="middle" fill="#000" textLength="26.42" lengthAdjust="spacingAndGlyphs" stroke="#000" stroke-width="0.3">[0.329]</text></g><line x1="228" y1="469" x2="259.6" y2="469" stroke="#000" stroke-width="1.2"/><line x1="228" y1="482.3" x2="259.6" y2="482.3" stroke="#000" stroke-width="1.2"/><line x1="228" y1="476.2" x2="240.4" y2="476.2" stroke="#000" stroke-width="1.2"/><line x1="238.4" y1="458" x2="238.4" y2="469" stroke="#000" stroke-width="1.2"/><path d="M238.4,469 L237,465 L239.8,465 Z" fill="#000"/><line x1="238.4" y1="476.2" x2="238.4" y2="486.2" stroke="#000" stroke-width="1.2"/><path d="M238.4,476.2 L239.8,480.2 L237,480.2 Z" fill="#000"/><line x1="258.6" y1="458" x2="258.6" y2="469" stroke="#000" stroke-width="1.2"/><path d="M258.6,469 L257.2,465 L260,465 Z" fill="#000"/><line x1="258.6" y1="482.3" x2="258.6" y2="493.3" stroke="#000" stroke-width="1.2"/><path d="M258.6,482.3 L260,486.3 L257.2,486.3 Z" fill="#000"/><g transform="translate(243.2,442.7) rotate(-90)"><text x="0" y="-1.02" style='font-family:"Liberation Sans";font-size:8px;font-weight:normal' text-anchor="middle" fill="#000" textLength="16.81" lengthAdjust="spacingAndGlyphs" stroke="#000" stroke-width="0.3">1.98</text><text x="0" y="6.78" style='font-family:"Liberation Sans";font-size:8px;font-weight:normal' text-anchor="middle" fill="#000" textLength="26.42" lengthAdjust="spacingAndGlyphs" stroke="#000" stroke-width="0.3">[0.078]</text></g><g transform="translate(262.5,443) rotate(-90)"><text x="0" y="-1.02" style='font-family:"Liberation Sans";font-size:8px;font-weight:normal' text-anchor="middle" fill="#000" textLength="16.81" lengthAdjust="spacingAndGlyphs" stroke="#000" stroke-width="0.3">3.96</text><text x="0" y="6.78" style='font-family:"Liberation Sans";font-size:8px;font-weight:normal' text-anchor="middle" fill="#000" textLength="26.42" lengthAdjust="spacingAndGlyphs" stroke="#000" stroke-width="0.3">[0.156]</text></g><line x1="95.3" y1="484" x2="95.3" y2="510.4" stroke="#000" stroke-width="1.2"/><line x1="101.4" y1="484" x2="101.4" y2="510.4" stroke="#000" stroke-width="1.2"/><line x1="83.3" y1="508.4" x2="95.3" y2="508.4" stroke="#000" stroke-width="1.2"/><path d="M95.3,508.4 L91.3,509.8 L91.3,507 Z" fill="#000"/><line x1="101.4" y1="508.4" x2="112.4" y2="508.4" stroke="#000" stroke-width="1.2"/><path d="M101.4,508.4 L105.4,507 L105.4,509.8 Z" fill="#000"/><text x="122.3" y="511.4" style='font-family:"Liberation Sans";font-size:8px;font-weight:normal' text-anchor="middle" fill="#000" >D</text><path d="M218,480 L200,505.5 L188.6,505.5" stroke="#000" stroke-width="1.2" fill="none" /><text x="167.5" y="507.5" style='font-family:"Liberation Sans";font-size:8px;font-weight:normal' text-anchor="middle" fill="#000" textLength="33" lengthAdjust="spacingAndGlyphs" >2&#8722;&#966;3.05</text><text x="166" y="517" style='font-family:"Liberation Sans";font-size:8px;font-weight:normal' text-anchor="middle" fill="#000" textLength="43" lengthAdjust="spacingAndGlyphs" >[2&#8722;&#966;0.120]</text><rect x="424.8" y="489" width="212.4" height="47" rx="3.5" fill="none" stroke="#000" stroke-width="1.3"/><path d="M451.3,494.6 L609.6,494.6 Q614.1,494.6 613.6,499.1 L607.1,525.3 Q606.6,529.8 602.1,529.8 L456.1,529.8 Q451.6,529.8 451.1,525.3 L447.3,499.1 Q446.8,494.6 451.3,494.6 Z" stroke="#000" stroke-width="2.5" fill="none" /><circle cx="434" cy="511.8" r="4.6" fill="none" stroke="#000" stroke-width="1.5"/><circle cx="434" cy="511.8" r="1.8" fill="none" stroke="#000" stroke-width="0.9"/><circle cx="627.6" cy="511.8" r="4.6" fill="none" stroke="#000" stroke-width="1.5"/><circle cx="627.6" cy="511.8" r="1.8" fill="none" stroke="#000" stroke-width="0.9"/><line x1="426" y1="511.8" x2="428.5" y2="511.8" stroke="#000" stroke-width="0.8"/><line x1="439.5" y1="511.8" x2="442" y2="511.8" stroke="#000" stroke-width="0.8"/><line x1="434" y1="517.3" x2="434" y2="520.3" stroke="#000" stroke-width="0.8"/><line x1="619.6" y1="511.8" x2="622.1" y2="511.8" stroke="#000" stroke-width="0.8"/><line x1="633.1" y1="511.8" x2="635.6" y2="511.8" stroke="#000" stroke-width="0.8"/><line x1="627.6" y1="517.3" x2="627.6" y2="520.3" stroke="#000" stroke-width="0.8"/><circle cx="457.8" cy="502.6" r="2.3" fill="#000"/><circle cx="465.7" cy="502.6" r="2.3" fill="#000"/><circle cx="473.1" cy="502.6" r="2.3" fill="#000"/><circle cx="480.3" cy="502.6" r="2.3" fill="#000"/><circle cx="580.5" cy="502.6" r="2.3" fill="#000"/><circle cx="588" cy="502.6" r="2.3" fill="#000"/><circle cx="595.9" cy="502.6" r="2.3" fill="#000"/><circle cx="603.4" cy="502.6" r="2.3" fill="#000"/><line x1="483.5" y1="502.6" x2="577.3" y2="502.6" stroke="#000" stroke-width="1.2" stroke-dasharray="14 2.5 2 2.5"/><circle cx="461.6" cy="508.8" r="2.3" fill="#000"/><circle cx="469.6" cy="508.8" r="2.3" fill="#000"/><circle cx="476.8" cy="508.8" r="2.3" fill="#000"/><circle cx="584.2" cy="508.8" r="2.3" fill="#000"/><circle cx="592" cy="508.8" r="2.3" fill="#000"/><circle cx="599.8" cy="508.8" r="2.3" fill="#000"/><line x1="480" y1="508.8" x2="581" y2="508.8" stroke="#000" stroke-width="1.2" stroke-dasharray="14 2.5 2 2.5"/><circle cx="457.8" cy="515.5" r="2.3" fill="#000"/><circle cx="465.7" cy="515.5" r="2.3" fill="#000"/><circle cx="473.1" cy="515.5" r="2.3" fill="#000"/><circle cx="480.3" cy="515.5" r="2.3" fill="#000"/><circle cx="580.5" cy="515.5" r="2.3" fill="#000"/><circle cx="588" cy="515.5" r="2.3" fill="#000"/><circle cx="595.9" cy="515.5" r="2.3" fill="#000"/><circle cx="603.4" cy="515.5" r="2.3" fill="#000"/><line x1="483.5" y1="515.5" x2="577.3" y2="515.5" stroke="#000" stroke-width="1.2" stroke-dasharray="14 2.5 2 2.5"/><circle cx="461.6" cy="521.8" r="2.3" fill="#000"/><circle cx="469.6" cy="521.8" r="2.3" fill="#000"/><circle cx="476.8" cy="521.8" r="2.3" fill="#000"/><circle cx="584.2" cy="521.8" r="2.3" fill="#000"/><circle cx="592" cy="521.8" r="2.3" fill="#000"/><circle cx="599.8" cy="521.8" r="2.3" fill="#000"/><line x1="480" y1="521.8" x2="581" y2="521.8" stroke="#000" stroke-width="1.2" stroke-dasharray="14 2.5 2 2.5"/><line x1="424.8" y1="450" x2="521.7" y2="450" stroke="#000" stroke-width="1.25"/><line x1="539.7" y1="450" x2="637.2" y2="450" stroke="#000" stroke-width="1.25"/><path d="M424.8,450 L429.8,448.4 L429.8,451.6 Z" fill="#000"/><path d="M637.2,450 L632.2,451.6 L632.2,448.4 Z" fill="#000"/><text x="530.7" y="452.9" style='font-family:"Liberation Sans";font-size:8px;font-weight:bold' text-anchor="middle" fill="#000" >A</text><line x1="424.8" y1="450" x2="424.8" y2="491" stroke="#000" stroke-width="1.25"/><line x1="637.2" y1="450" x2="637.2" y2="491" stroke="#000" stroke-width="1.25"/><line x1="434" y1="464.5" x2="521.7" y2="464.5" stroke="#000" stroke-width="1.25"/><line x1="539.7" y1="464.5" x2="627.6" y2="464.5" stroke="#000" stroke-width="1.25"/><path d="M434,464.5 L439,462.9 L439,466.1 Z" fill="#000"/><path d="M627.6,464.5 L622.6,466.1 L622.6,462.9 Z" fill="#000"/><text x="530.7" y="467.4" style='font-family:"Liberation Sans";font-size:8px;font-weight:bold' text-anchor="middle" fill="#000" >B</text><line x1="434" y1="464.5" x2="434" y2="506.8" stroke="#000" stroke-width="1.25"/><line x1="627.6" y1="464.5" x2="627.6" y2="506.8" stroke="#000" stroke-width="1.25"/><line x1="446.8" y1="478.2" x2="521.7" y2="478.2" stroke="#000" stroke-width="1.25"/><line x1="539.7" y1="478.2" x2="614.1" y2="478.2" stroke="#000" stroke-width="1.25"/><path d="M446.8,478.2 L451.8,476.6 L451.8,479.8 Z" fill="#000"/><path d="M614.1,478.2 L609.1,479.8 L609.1,476.6 Z" fill="#000"/><text x="530.7" y="481.1" style='font-family:"Liberation Sans";font-size:8px;font-weight:bold' text-anchor="middle" fill="#000" >C</text><line x1="446.8" y1="478.2" x2="446.8" y2="494.6" stroke="#000" stroke-width="1.25"/><line x1="614.1" y1="478.2" x2="614.1" y2="494.6" stroke="#000" stroke-width="1.25"/><line x1="382.8" y1="489" x2="424.8" y2="489" stroke="#000" stroke-width="1.2"/><line x1="382.8" y1="536" x2="424.8" y2="536" stroke="#000" stroke-width="1.2"/><line x1="402.2" y1="494.6" x2="446.8" y2="494.6" stroke="#000" stroke-width="1.2"/><line x1="402.2" y1="529.8" x2="451.6" y2="529.8" stroke="#000" stroke-width="1.2"/><line x1="383.8" y1="489" x2="383.8" y2="498" stroke="#000" stroke-width="1.25"/><path d="M383.8,489 L385.2,493 L382.4,493 Z" fill="#000"/><line x1="383.8" y1="527" x2="383.8" y2="536" stroke="#000" stroke-width="1.25"/><path d="M383.8,536 L382.4,532 L385.2,532 Z" fill="#000"/><line x1="403.2" y1="484.6" x2="403.2" y2="494.6" stroke="#000" stroke-width="1"/><path d="M403.2,494.6 L401.8,490.6 L404.6,490.6 Z" fill="#000"/><line x1="403.2" y1="529.8" x2="403.2" y2="539.8" stroke="#000" stroke-width="1"/><path d="M403.2,529.8 L404.6,533.8 L401.8,533.8 Z" fill="#000"/><g transform="translate(407,467.3) rotate(-90)"><text x="0" y="-1.02" style='font-family:"Liberation Sans";font-size:8px;font-weight:normal' text-anchor="middle" fill="#000" textLength="21.62" lengthAdjust="spacingAndGlyphs" stroke="#000" stroke-width="0.3">11.07</text><text x="0" y="6.78" style='font-family:"Liberation Sans";font-size:8px;font-weight:normal' text-anchor="middle" fill="#000" textLength="26.42" lengthAdjust="spacingAndGlyphs" stroke="#000" stroke-width="0.3">[0.436]</text></g><g transform="translate(388.2,512) rotate(-90)"><text x="0" y="-1.02" style='font-family:"Liberation Sans";font-size:8px;font-weight:normal' text-anchor="middle" fill="#000" textLength="21.62" lengthAdjust="spacingAndGlyphs" stroke="#000" stroke-width="0.3">15.37</text><text x="0" y="6.78" style='font-family:"Liberation Sans";font-size:8px;font-weight:normal' text-anchor="middle" fill="#000" textLength="26.42" lengthAdjust="spacingAndGlyphs" stroke="#000" stroke-width="0.3">[0.605]</text></g><line x1="637.2" y1="502.7" x2="669.2" y2="502.7" stroke="#000" stroke-width="1.2"/><line x1="637.2" y1="521.7" x2="669.2" y2="521.7" stroke="#000" stroke-width="1.2"/><line x1="637.2" y1="509" x2="649.9" y2="509" stroke="#000" stroke-width="1.2"/><line x1="647.9" y1="491.7" x2="647.9" y2="502.7" stroke="#000" stroke-width="1.2"/><path d="M647.9,502.7 L646.5,498.7 L649.3,498.7 Z" fill="#000"/><line x1="647.9" y1="509" x2="647.9" y2="519" stroke="#000" stroke-width="1.2"/><path d="M647.9,509 L649.3,513 L646.5,513 Z" fill="#000"/><line x1="668.2" y1="491.7" x2="668.2" y2="502.7" stroke="#000" stroke-width="1.2"/><path d="M668.2,502.7 L666.8,498.7 L669.6,498.7 Z" fill="#000"/><line x1="668.2" y1="521.7" x2="668.2" y2="532.7" stroke="#000" stroke-width="1.2"/><path d="M668.2,521.7 L669.6,525.7 L666.8,525.7 Z" fill="#000"/><g transform="translate(652,475.3) rotate(-90)"><text x="0" y="-1.02" style='font-family:"Liberation Sans";font-size:8px;font-weight:normal' text-anchor="middle" fill="#000" textLength="16.81" lengthAdjust="spacingAndGlyphs" stroke="#000" stroke-width="0.3">1.98</text><text x="0" y="6.78" style='font-family:"Liberation Sans";font-size:8px;font-weight:normal' text-anchor="middle" fill="#000" textLength="26.42" lengthAdjust="spacingAndGlyphs" stroke="#000" stroke-width="0.3">[0.078]</text></g><g transform="translate(673.5,478) rotate(-90)"><text x="0" y="-1.02" style='font-family:"Liberation Sans";font-size:8px;font-weight:normal' text-anchor="middle" fill="#000" textLength="16.81" lengthAdjust="spacingAndGlyphs" stroke="#000" stroke-width="0.3">5.94</text><text x="0" y="6.78" style='font-family:"Liberation Sans";font-size:8px;font-weight:normal' text-anchor="middle" fill="#000" textLength="26.42" lengthAdjust="spacingAndGlyphs" stroke="#000" stroke-width="0.3">[0.234]</text></g><line x1="461.6" y1="522" x2="461.6" y2="548.2" stroke="#000" stroke-width="1.2"/><line x1="469.6" y1="522" x2="469.6" y2="548.2" stroke="#000" stroke-width="1.2"/><line x1="449.6" y1="546.2" x2="461.6" y2="546.2" stroke="#000" stroke-width="1.2"/><path d="M461.6,546.2 L457.6,547.6 L457.6,544.8 Z" fill="#000"/><line x1="469.6" y1="546.2" x2="480.6" y2="546.2" stroke="#000" stroke-width="1.2"/><path d="M469.6,546.2 L473.6,544.8 L473.6,547.6 Z" fill="#000"/><text x="489.5" y="549.2" style='font-family:"Liberation Sans";font-size:8px;font-weight:normal' text-anchor="middle" fill="#000" >D</text><path d="M624.8,514 L609.8,544.8 L588.4,544.8" stroke="#000" stroke-width="1.2" fill="none" /><text x="569" y="548" style='font-family:"Liberation Sans";font-size:8px;font-weight:normal' text-anchor="middle" fill="#000" textLength="33" lengthAdjust="spacingAndGlyphs" >2&#8722;&#966;3.05</text><text x="567.5" y="557.5" style='font-family:"Liberation Sans";font-size:8px;font-weight:normal' text-anchor="middle" fill="#000" textLength="43" lengthAdjust="spacingAndGlyphs" >[2&#8722;&#966;0.120]</text><rect x="62" y="754.8" width="167" height="38.9" rx="3.5" fill="none" stroke="#000" stroke-width="1.3"/><path d="M89,762.7 L200,762.7 Q204.5,762.7 204,767.2 L202.8,782 Q202.3,786.5 197.8,786.5 L92.5,786.5 Q88,786.5 87.5,782 L85,767.2 Q84.5,762.7 89,762.7 Z" stroke="#000" stroke-width="2.5" fill="none" /><path d="M91.1,765.3 L197.9,765.3 Q201.9,765.3 201.4,769.3 L200.2,779.9 Q199.7,783.9 195.7,783.9 L94.6,783.9 Q90.6,783.9 90.1,779.9 L87.6,769.3 Q87.1,765.3 91.1,765.3 Z" stroke="#000" stroke-width="0.8" fill="none" /><circle cx="71.3" cy="774.4" r="4.6" fill="none" stroke="#000" stroke-width="1.5"/><circle cx="71.3" cy="774.4" r="1.8" fill="none" stroke="#000" stroke-width="0.9"/><circle cx="218.8" cy="774.4" r="4.6" fill="none" stroke="#000" stroke-width="1.5"/><circle cx="218.8" cy="774.4" r="1.8" fill="none" stroke="#000" stroke-width="0.9"/><line x1="63.3" y1="774.4" x2="65.8" y2="774.4" stroke="#000" stroke-width="0.8"/><line x1="76.8" y1="774.4" x2="79.3" y2="774.4" stroke="#000" stroke-width="0.8"/><line x1="71.3" y1="779.9" x2="71.3" y2="782.9" stroke="#000" stroke-width="0.8"/><line x1="210.8" y1="774.4" x2="213.3" y2="774.4" stroke="#000" stroke-width="0.8"/><line x1="224.3" y1="774.4" x2="226.8" y2="774.4" stroke="#000" stroke-width="0.8"/><line x1="218.8" y1="779.9" x2="218.8" y2="782.9" stroke="#000" stroke-width="0.8"/><circle cx="92.4" cy="768.2" r="2.5" fill="#000"/><circle cx="99.5" cy="768.2" r="2.5" fill="#000"/><circle cx="106.5" cy="768.2" r="2.5" fill="#000"/><circle cx="114.1" cy="768.2" r="2.5" fill="#000"/><circle cx="121.5" cy="768.2" r="2.5" fill="#000"/><circle cx="180.5" cy="768.2" r="2.5" fill="#000"/><circle cx="187.4" cy="768.2" r="2.5" fill="#000"/><circle cx="193.8" cy="768.2" r="2.5" fill="#000"/><line x1="124.7" y1="768.2" x2="177.3" y2="768.2" stroke="#000" stroke-width="1.2" stroke-dasharray="14 2.5 2 2.5"/><circle cx="96.5" cy="774.4" r="2.5" fill="#000"/><circle cx="103.9" cy="774.4" r="2.5" fill="#000"/><circle cx="110.9" cy="774.4" r="2.5" fill="#000"/><circle cx="118" cy="774.4" r="2.5" fill="#000"/><circle cx="184.2" cy="774.4" r="2.5" fill="#000"/><circle cx="190.6" cy="774.4" r="2.5" fill="#000"/><circle cx="197" cy="774.4" r="2.5" fill="#000"/><line x1="121.2" y1="774.4" x2="181" y2="774.4" stroke="#000" stroke-width="1.2" stroke-dasharray="14 2.5 2 2.5"/><circle cx="99.5" cy="780.7" r="2.5" fill="#000"/><circle cx="106.5" cy="780.7" r="2.5" fill="#000"/><circle cx="114.1" cy="780.7" r="2.5" fill="#000"/><circle cx="121.5" cy="780.7" r="2.5" fill="#000"/><circle cx="180.5" cy="780.7" r="2.5" fill="#000"/><circle cx="187.4" cy="780.7" r="2.5" fill="#000"/><circle cx="193.8" cy="780.7" r="2.5" fill="#000"/><line x1="124.7" y1="780.7" x2="177.3" y2="780.7" stroke="#000" stroke-width="1.2" stroke-dasharray="14 2.5 2 2.5"/><line x1="62" y1="713" x2="136.3" y2="713" stroke="#000" stroke-width="1.25"/><line x1="154.3" y1="713" x2="229" y2="713" stroke="#000" stroke-width="1.25"/><path d="M62,713 L67,711.4 L67,714.6 Z" fill="#000"/><path d="M229,713 L224,714.6 L224,711.4 Z" fill="#000"/><text x="145.3" y="715.9" style='font-family:"Liberation Sans";font-size:8px;font-weight:bold' text-anchor="middle" fill="#000" >A</text><line x1="62" y1="713" x2="62" y2="756.8" stroke="#000" stroke-width="1.25"/><line x1="229" y1="713" x2="229" y2="756.8" stroke="#000" stroke-width="1.25"/><line x1="71.3" y1="727.5" x2="136.3" y2="727.5" stroke="#000" stroke-width="1.25"/><line x1="154.3" y1="727.5" x2="218.8" y2="727.5" stroke="#000" stroke-width="1.25"/><path d="M71.3,727.5 L76.3,725.9 L76.3,729.1 Z" fill="#000"/><path d="M218.8,727.5 L213.8,729.1 L213.8,725.9 Z" fill="#000"/><text x="145.3" y="730.4" style='font-family:"Liberation Sans";font-size:8px;font-weight:bold' text-anchor="middle" fill="#000" >B</text><line x1="71.3" y1="727.5" x2="71.3" y2="769.4" stroke="#000" stroke-width="1.25"/><line x1="218.8" y1="727.5" x2="218.8" y2="769.4" stroke="#000" stroke-width="1.25"/><line x1="84.5" y1="743" x2="136.3" y2="743" stroke="#000" stroke-width="1.25"/><line x1="154.3" y1="743" x2="204.5" y2="743" stroke="#000" stroke-width="1.25"/><path d="M84.5,743 L89.5,741.4 L89.5,744.6 Z" fill="#000"/><path d="M204.5,743 L199.5,744.6 L199.5,741.4 Z" fill="#000"/><text x="145.3" y="745.9" style='font-family:"Liberation Sans";font-size:8px;font-weight:bold' text-anchor="middle" fill="#000" >C</text><line x1="84.5" y1="743" x2="84.5" y2="762.7" stroke="#000" stroke-width="1.25"/><line x1="204.5" y1="743" x2="204.5" y2="762.7" stroke="#000" stroke-width="1.25"/><line x1="21.9" y1="754.8" x2="62" y2="754.8" stroke="#000" stroke-width="1.2"/><line x1="21.9" y1="793.7" x2="62" y2="793.7" stroke="#000" stroke-width="1.2"/><line x1="41.3" y1="761.6" x2="84.5" y2="761.6" stroke="#000" stroke-width="1.2"/><line x1="41.3" y1="786.3" x2="88" y2="786.3" stroke="#000" stroke-width="1.2"/><line x1="22.9" y1="743.8" x2="22.9" y2="754.8" stroke="#000" stroke-width="1"/><path d="M22.9,754.8 L21.5,750.8 L24.3,750.8 Z" fill="#000"/><line x1="22.9" y1="793.7" x2="22.9" y2="804.7" stroke="#000" stroke-width="1"/><path d="M22.9,793.7 L24.3,797.7 L21.5,797.7 Z" fill="#000"/><line x1="42.3" y1="751.6" x2="42.3" y2="761.6" stroke="#000" stroke-width="1"/><path d="M42.3,761.6 L40.9,757.6 L43.7,757.6 Z" fill="#000"/><line x1="42.3" y1="786.3" x2="42.3" y2="796.3" stroke="#000" stroke-width="1"/><path d="M42.3,786.3 L43.7,790.3 L40.9,790.3 Z" fill="#000"/><g transform="translate(27.3,726.8) rotate(-90)"><text x="0" y="-1.02" style='font-family:"Liberation Sans";font-size:8px;font-weight:normal' text-anchor="middle" fill="#000" textLength="21.62" lengthAdjust="spacingAndGlyphs" stroke="#000" stroke-width="0.3">12.55</text><text x="0" y="6.78" style='font-family:"Liberation Sans";font-size:8px;font-weight:normal' text-anchor="middle" fill="#000" textLength="26.42" lengthAdjust="spacingAndGlyphs" stroke="#000" stroke-width="0.3">[0.494]</text></g><g transform="translate(47,737.8) rotate(-90)"><text x="0" y="-1.02" style='font-family:"Liberation Sans";font-size:8px;font-weight:normal' text-anchor="middle" fill="#000" textLength="12.01" lengthAdjust="spacingAndGlyphs" stroke="#000" stroke-width="0.3">7.9</text><text x="0" y="6.78" style='font-family:"Liberation Sans";font-size:8px;font-weight:normal' text-anchor="middle" fill="#000" textLength="26.42" lengthAdjust="spacingAndGlyphs" stroke="#000" stroke-width="0.3">[0.311]</text></g><line x1="229" y1="768.4" x2="260" y2="768.4" stroke="#000" stroke-width="1.2"/><line x1="229" y1="780.8" x2="260" y2="780.8" stroke="#000" stroke-width="1.2"/><line x1="229" y1="774.4" x2="241.1" y2="774.4" stroke="#000" stroke-width="1.2"/><line x1="239.1" y1="757.4" x2="239.1" y2="768.4" stroke="#000" stroke-width="1.2"/><path d="M239.1,768.4 L237.7,764.4 L240.5,764.4 Z" fill="#000"/><line x1="239.1" y1="774.4" x2="239.1" y2="784.4" stroke="#000" stroke-width="1.2"/><path d="M239.1,774.4 L240.5,778.4 L237.7,778.4 Z" fill="#000"/><line x1="259" y1="757.4" x2="259" y2="768.4" stroke="#000" stroke-width="1.2"/><path d="M259,768.4 L257.6,764.4 L260.4,764.4 Z" fill="#000"/><line x1="259" y1="780.8" x2="259" y2="791.8" stroke="#000" stroke-width="1.2"/><path d="M259,780.8 L260.4,784.8 L257.6,784.8 Z" fill="#000"/><g transform="translate(243.7,741.7) rotate(-90)"><text x="0" y="-1.02" style='font-family:"Liberation Sans";font-size:8px;font-weight:normal' text-anchor="middle" fill="#000" textLength="16.81" lengthAdjust="spacingAndGlyphs" stroke="#000" stroke-width="0.3">1.98</text><text x="0" y="6.78" style='font-family:"Liberation Sans";font-size:8px;font-weight:normal' text-anchor="middle" fill="#000" textLength="26.42" lengthAdjust="spacingAndGlyphs" stroke="#000" stroke-width="0.3">[0.078]</text></g><g transform="translate(263.8,741.7) rotate(-90)"><text x="0" y="-1.02" style='font-family:"Liberation Sans";font-size:8px;font-weight:normal' text-anchor="middle" fill="#000" textLength="16.81" lengthAdjust="spacingAndGlyphs" stroke="#000" stroke-width="0.3">3.96</text><text x="0" y="6.78" style='font-family:"Liberation Sans";font-size:8px;font-weight:normal' text-anchor="middle" fill="#000" textLength="26.42" lengthAdjust="spacingAndGlyphs" stroke="#000" stroke-width="0.3">[0.156]</text></g><line x1="100.4" y1="781" x2="100.4" y2="807.7" stroke="#000" stroke-width="1.2"/><line x1="107.4" y1="781" x2="107.4" y2="807.7" stroke="#000" stroke-width="1.2"/><line x1="88.4" y1="805.7" x2="100.4" y2="805.7" stroke="#000" stroke-width="1.2"/><path d="M100.4,805.7 L96.4,807.1 L96.4,804.3 Z" fill="#000"/><line x1="107.4" y1="805.7" x2="118.4" y2="805.7" stroke="#000" stroke-width="1.2"/><path d="M107.4,805.7 L111.4,804.3 L111.4,807.1 Z" fill="#000"/><text x="127.6" y="808.7" style='font-family:"Liberation Sans";font-size:8px;font-weight:normal' text-anchor="middle" fill="#000" >D</text><path d="M217.3,777.5 L200.2,804.8 L188.4,804.8" stroke="#000" stroke-width="1.2" fill="none" /><text x="169" y="808" style='font-family:"Liberation Sans";font-size:8px;font-weight:normal' text-anchor="middle" fill="#000" textLength="33" lengthAdjust="spacingAndGlyphs" >2&#8722;&#966;3.05</text><text x="167.5" y="817.5" style='font-family:"Liberation Sans";font-size:8px;font-weight:normal' text-anchor="middle" fill="#000" textLength="43" lengthAdjust="spacingAndGlyphs" >[2&#8722;&#966;0.120]</text><rect x="427.2" y="754.5" width="211.5" height="47.5" rx="3.5" fill="none" stroke="#000" stroke-width="1.3"/><path d="M454.3,762.6 L609.6,762.6 Q614.1,762.6 613.6,767.1 L610.3,788.8 Q609.8,793.3 605.3,793.3 L459.6,793.3 Q455.1,793.3 454.6,788.8 L450.3,767.1 Q449.8,762.6 454.3,762.6 Z" stroke="#000" stroke-width="2.5" fill="none" /><path d="M456.4,765.2 L607.5,765.2 Q611.5,765.2 611,769.2 L607.7,786.7 Q607.2,790.7 603.2,790.7 L461.7,790.7 Q457.7,790.7 457.2,786.7 L452.9,769.2 Q452.4,765.2 456.4,765.2 Z" stroke="#000" stroke-width="0.8" fill="none" /><circle cx="436.6" cy="777.6" r="4.6" fill="none" stroke="#000" stroke-width="1.5"/><circle cx="436.6" cy="777.6" r="1.8" fill="none" stroke="#000" stroke-width="0.9"/><circle cx="629" cy="777.6" r="4.6" fill="none" stroke="#000" stroke-width="1.5"/><circle cx="629" cy="777.6" r="1.8" fill="none" stroke="#000" stroke-width="0.9"/><line x1="428.6" y1="777.6" x2="431.1" y2="777.6" stroke="#000" stroke-width="0.8"/><line x1="442.1" y1="777.6" x2="444.6" y2="777.6" stroke="#000" stroke-width="0.8"/><line x1="436.6" y1="783.1" x2="436.6" y2="786.1" stroke="#000" stroke-width="0.8"/><line x1="621" y1="777.6" x2="623.5" y2="777.6" stroke="#000" stroke-width="0.8"/><line x1="634.5" y1="777.6" x2="637" y2="777.6" stroke="#000" stroke-width="0.8"/><line x1="629" y1="783.1" x2="629" y2="786.1" stroke="#000" stroke-width="0.8"/><circle cx="460.8" cy="768.7" r="2.5" fill="#000"/><circle cx="468.3" cy="768.7" r="2.5" fill="#000"/><circle cx="475.7" cy="768.7" r="2.5" fill="#000"/><circle cx="483.6" cy="768.7" r="2.5" fill="#000"/><circle cx="584.2" cy="768.7" r="2.5" fill="#000"/><circle cx="590.6" cy="768.7" r="2.5" fill="#000"/><circle cx="598" cy="768.7" r="2.5" fill="#000"/><circle cx="605.5" cy="768.7" r="2.5" fill="#000"/><line x1="486.8" y1="768.7" x2="581" y2="768.7" stroke="#000" stroke-width="1.2" stroke-dasharray="14 2.5 2 2.5"/><circle cx="464.8" cy="775" r="2.5" fill="#000"/><circle cx="472.2" cy="775" r="2.5" fill="#000"/><circle cx="480.1" cy="775" r="2.5" fill="#000"/><circle cx="587.4" cy="775" r="2.5" fill="#000"/><circle cx="594.4" cy="775" r="2.5" fill="#000"/><circle cx="602.3" cy="775" r="2.5" fill="#000"/><line x1="483.3" y1="775" x2="584.2" y2="775" stroke="#000" stroke-width="1.2" stroke-dasharray="14 2.5 2 2.5"/><circle cx="460.8" cy="781" r="2.5" fill="#000"/><circle cx="468.3" cy="781" r="2.5" fill="#000"/><circle cx="475.7" cy="781" r="2.5" fill="#000"/><circle cx="483.6" cy="781" r="2.5" fill="#000"/><circle cx="584.2" cy="781" r="2.5" fill="#000"/><circle cx="590.6" cy="781" r="2.5" fill="#000"/><circle cx="598" cy="781" r="2.5" fill="#000"/><circle cx="605.5" cy="781" r="2.5" fill="#000"/><line x1="486.8" y1="781" x2="581" y2="781" stroke="#000" stroke-width="1.2" stroke-dasharray="14 2.5 2 2.5"/><circle cx="464.8" cy="787.2" r="2.5" fill="#000"/><circle cx="472.2" cy="787.2" r="2.5" fill="#000"/><circle cx="480.1" cy="787.2" r="2.5" fill="#000"/><circle cx="587.4" cy="787.2" r="2.5" fill="#000"/><circle cx="594.4" cy="787.2" r="2.5" fill="#000"/><circle cx="602.3" cy="787.2" r="2.5" fill="#000"/><line x1="483.3" y1="787.2" x2="584.2" y2="787.2" stroke="#000" stroke-width="1.2" stroke-dasharray="14 2.5 2 2.5"/><line x1="427.2" y1="716.5" x2="524.3" y2="716.5" stroke="#000" stroke-width="1.25"/><line x1="542.3" y1="716.5" x2="638.7" y2="716.5" stroke="#000" stroke-width="1.25"/><path d="M427.2,716.5 L432.2,714.9 L432.2,718.1 Z" fill="#000"/><path d="M638.7,716.5 L633.7,718.1 L633.7,714.9 Z" fill="#000"/><text x="533.3" y="719.4" style='font-family:"Liberation Sans";font-size:8px;font-weight:bold' text-anchor="middle" fill="#000" >A</text><line x1="427.2" y1="716.5" x2="427.2" y2="756.5" stroke="#000" stroke-width="1.25"/><line x1="638.7" y1="716.5" x2="638.7" y2="756.5" stroke="#000" stroke-width="1.25"/><line x1="436.6" y1="730.8" x2="524.3" y2="730.8" stroke="#000" stroke-width="1.25"/><line x1="542.3" y1="730.8" x2="629" y2="730.8" stroke="#000" stroke-width="1.25"/><path d="M436.6,730.8 L441.6,729.2 L441.6,732.4 Z" fill="#000"/><path d="M629,730.8 L624,732.4 L624,729.2 Z" fill="#000"/><text x="533.3" y="733.7" style='font-family:"Liberation Sans";font-size:8px;font-weight:bold' text-anchor="middle" fill="#000" >B</text><line x1="436.6" y1="730.8" x2="436.6" y2="772.6" stroke="#000" stroke-width="1.25"/><line x1="629" y1="730.8" x2="629" y2="772.6" stroke="#000" stroke-width="1.25"/><line x1="449.8" y1="744" x2="524.3" y2="744" stroke="#000" stroke-width="1.25"/><line x1="542.3" y1="744" x2="614.1" y2="744" stroke="#000" stroke-width="1.25"/><path d="M449.8,744 L454.8,742.4 L454.8,745.6 Z" fill="#000"/><path d="M614.1,744 L609.1,745.6 L609.1,742.4 Z" fill="#000"/><text x="533.3" y="746.9" style='font-family:"Liberation Sans";font-size:8px;font-weight:bold' text-anchor="middle" fill="#000" >C</text><line x1="449.8" y1="744" x2="449.8" y2="762.6" stroke="#000" stroke-width="1.25"/><line x1="614.1" y1="744" x2="614.1" y2="762.6" stroke="#000" stroke-width="1.25"/><line x1="384.6" y1="754.5" x2="427.2" y2="754.5" stroke="#000" stroke-width="1.2"/><line x1="384.6" y1="802" x2="427.2" y2="802" stroke="#000" stroke-width="1.2"/><line x1="404" y1="762.2" x2="449.8" y2="762.2" stroke="#000" stroke-width="1.2"/><line x1="404" y1="796.6" x2="455.1" y2="796.6" stroke="#000" stroke-width="1.2"/><line x1="385.6" y1="754.5" x2="385.6" y2="763.5" stroke="#000" stroke-width="1.25"/><path d="M385.6,754.5 L387,758.5 L384.2,758.5 Z" fill="#000"/><line x1="385.6" y1="793" x2="385.6" y2="802" stroke="#000" stroke-width="1.25"/><path d="M385.6,802 L384.2,798 L387,798 Z" fill="#000"/><line x1="405" y1="752.2" x2="405" y2="762.2" stroke="#000" stroke-width="1"/><path d="M405,762.2 L403.6,758.2 L406.4,758.2 Z" fill="#000"/><line x1="405" y1="796.6" x2="405" y2="806.6" stroke="#000" stroke-width="1"/><path d="M405,796.6 L406.4,800.6 L403.6,800.6 Z" fill="#000"/><g transform="translate(409.8,733.5) rotate(-90)"><text x="0" y="-1.02" style='font-family:"Liberation Sans";font-size:8px;font-weight:normal' text-anchor="middle" fill="#000" textLength="21.62" lengthAdjust="spacingAndGlyphs" stroke="#000" stroke-width="0.3">10.74</text><text x="0" y="6.78" style='font-family:"Liberation Sans";font-size:8px;font-weight:normal' text-anchor="middle" fill="#000" textLength="26.42" lengthAdjust="spacingAndGlyphs" stroke="#000" stroke-width="0.3">[0.423]</text></g><g transform="translate(391,778) rotate(-90)"><text x="0" y="-1.02" style='font-family:"Liberation Sans";font-size:8px;font-weight:normal' text-anchor="middle" fill="#000" textLength="21.62" lengthAdjust="spacingAndGlyphs" stroke="#000" stroke-width="0.3">15.37</text><text x="0" y="6.78" style='font-family:"Liberation Sans";font-size:8px;font-weight:normal' text-anchor="middle" fill="#000" textLength="26.42" lengthAdjust="spacingAndGlyphs" stroke="#000" stroke-width="0.3">[0.605]</text></g><line x1="638.7" y1="768.1" x2="671.8" y2="768.1" stroke="#000" stroke-width="1.2"/><line x1="638.7" y1="786.3" x2="671.8" y2="786.3" stroke="#000" stroke-width="1.2"/><line x1="638.7" y1="774.5" x2="650.3" y2="774.5" stroke="#000" stroke-width="1.2"/><line x1="648.3" y1="757.1" x2="648.3" y2="768.1" stroke="#000" stroke-width="1.2"/><path d="M648.3,768.1 L646.9,764.1 L649.7,764.1 Z" fill="#000"/><line x1="648.3" y1="774.5" x2="648.3" y2="784.5" stroke="#000" stroke-width="1.2"/><path d="M648.3,774.5 L649.7,778.5 L646.9,778.5 Z" fill="#000"/><line x1="670.8" y1="757.1" x2="670.8" y2="768.1" stroke="#000" stroke-width="1.2"/><path d="M670.8,768.1 L669.4,764.1 L672.2,764.1 Z" fill="#000"/><line x1="670.8" y1="786.3" x2="670.8" y2="797.3" stroke="#000" stroke-width="1.2"/><path d="M670.8,786.3 L672.2,790.3 L669.4,790.3 Z" fill="#000"/><g transform="translate(653,740.8) rotate(-90)"><text x="0" y="-1.02" style='font-family:"Liberation Sans";font-size:8px;font-weight:normal' text-anchor="middle" fill="#000" textLength="16.81" lengthAdjust="spacingAndGlyphs" stroke="#000" stroke-width="0.3">1.98</text><text x="0" y="6.78" style='font-family:"Liberation Sans";font-size:8px;font-weight:normal' text-anchor="middle" fill="#000" textLength="26.42" lengthAdjust="spacingAndGlyphs" stroke="#000" stroke-width="0.3">[0.078]</text></g><g transform="translate(675,743) rotate(-90)"><text x="0" y="-1.02" style='font-family:"Liberation Sans";font-size:8px;font-weight:normal' text-anchor="middle" fill="#000" textLength="16.81" lengthAdjust="spacingAndGlyphs" stroke="#000" stroke-width="0.3">5.94</text><text x="0" y="6.78" style='font-family:"Liberation Sans";font-size:8px;font-weight:normal' text-anchor="middle" fill="#000" textLength="26.42" lengthAdjust="spacingAndGlyphs" stroke="#000" stroke-width="0.3">[0.234]</text></g><line x1="466.2" y1="787" x2="466.2" y2="813.5" stroke="#000" stroke-width="1.2"/><line x1="471.5" y1="787" x2="471.5" y2="813.5" stroke="#000" stroke-width="1.2"/><line x1="454.2" y1="811.5" x2="466.2" y2="811.5" stroke="#000" stroke-width="1.2"/><path d="M466.2,811.5 L462.2,812.9 L462.2,810.1 Z" fill="#000"/><line x1="471.5" y1="811.5" x2="482.5" y2="811.5" stroke="#000" stroke-width="1.2"/><path d="M471.5,811.5 L475.5,810.1 L475.5,812.9 Z" fill="#000"/><text x="493" y="814.5" style='font-family:"Liberation Sans";font-size:8px;font-weight:normal' text-anchor="middle" fill="#000" >D</text><path d="M626.9,780 L607.7,810.9 L590.6,810.9" stroke="#000" stroke-width="1.2" fill="none" /><text x="571.5" y="813.5" style='font-family:"Liberation Sans";font-size:8px;font-weight:normal' text-anchor="middle" fill="#000" textLength="33" lengthAdjust="spacingAndGlyphs" >2&#8722;&#966;3.05</text><text x="570" y="823" style='font-family:"Liberation Sans";font-size:8px;font-weight:normal' text-anchor="middle" fill="#000" textLength="43" lengthAdjust="spacingAndGlyphs" >[2&#8722;&#966;0.120]</text><path d="M81.4,564.3 L81.4,551.6 Q81.4,546.6 86.4,546.6 L203,546.6 Q208,546.6 208,551.6 L208,564.3" stroke="#000" stroke-width="1.4" fill="none" /><path d="M80.2,568.4 L80.2,578 Q80.2,581 83.2,581 L208,581 Q211,581 211,578 L211,568.4" stroke="#000" stroke-width="1.4" fill="none" /><rect x="61" y="564.3" width="168.5" height="4.1" rx="1.5" fill="#000"/><rect x="82.2" y="581" width="126.8" height="3.5" fill="#555" stroke="#000" stroke-width="0.8"/><path d="M90.2,584.5 L90.2,597 Q90.2,599.3 92.5,599.3 Q94.8,599.3 94.8,597 L94.8,584.5" fill="#d8d8d8" stroke="#000" stroke-width="1.5"/><path d="M97.3,584.5 L97.3,597 Q97.3,599.3 99.6,599.3 Q101.9,599.3 101.9,597 L101.9,584.5" fill="#d8d8d8" stroke="#000" stroke-width="1.5"/><path d="M104.6,584.5 L104.6,597 Q104.6,599.3 106.9,599.3 Q109.2,599.3 109.2,597 L109.2,584.5" fill="#d8d8d8" stroke="#000" stroke-width="1.5"/><path d="M111.9,584.5 L111.9,597 Q111.9,599.3 114.2,599.3 Q116.5,599.3 116.5,597 L116.5,584.5" fill="#d8d8d8" stroke="#000" stroke-width="1.5"/><path d="M117,584.5 L117,597 Q117,599.3 119.3,599.3 Q121.6,599.3 121.6,597 L121.6,584.5" fill="#d8d8d8" stroke="#000" stroke-width="1.5"/><path d="M175.8,584.5 L175.8,597 Q175.8,599.3 178.1,599.3 Q180.4,599.3 180.4,597 L180.4,584.5" fill="#d8d8d8" stroke="#000" stroke-width="1.5"/><path d="M183.8,584.5 L183.8,597 Q183.8,599.3 186.1,599.3 Q188.4,599.3 188.4,597 L188.4,584.5" fill="#d8d8d8" stroke="#000" stroke-width="1.5"/><path d="M191.4,584.5 L191.4,597 Q191.4,599.3 193.7,599.3 Q196,599.3 196,597 L196,584.5" fill="#d8d8d8" stroke="#000" stroke-width="1.5"/><path d="M196.6,584.5 L196.6,597 Q196.6,599.3 198.9,599.3 Q201.2,599.3 201.2,597 L201.2,584.5" fill="#d8d8d8" stroke="#000" stroke-width="1.5"/><line x1="122.6" y1="593.3" x2="174.8" y2="593.3" stroke="#000" stroke-width="1.2" stroke-dasharray="14 2.5 2 2.5"/><line x1="122.6" y1="599" x2="174.8" y2="599" stroke="#000" stroke-width="1.2" stroke-dasharray="14 2.5 2 2.5"/><path d="M100.3,553.2 L100.3,557.05 A3.15,3.15 0 0 0 106.6,557.05 L106.6,553.2" stroke="#000" stroke-width="1.7" fill="none" /><path d="M111.89,553.2 L111.89,557.05 A3.15,3.15 0 0 0 118.19,557.05 L118.19,553.2" stroke="#000" stroke-width="1.7" fill="none" /><path d="M123.48,553.2 L123.48,557.05 A3.15,3.15 0 0 0 129.78,557.05 L129.78,553.2" stroke="#000" stroke-width="1.7" fill="none" /><path d="M135.07,553.2 L135.07,557.05 A3.15,3.15 0 0 0 141.37,557.05 L141.37,553.2" stroke="#000" stroke-width="1.7" fill="none" /><path d="M146.66,553.2 L146.66,557.05 A3.15,3.15 0 0 0 152.96,557.05 L152.96,553.2" stroke="#000" stroke-width="1.7" fill="none" /><path d="M158.25,553.2 L158.25,557.05 A3.15,3.15 0 0 0 164.55,557.05 L164.55,553.2" stroke="#000" stroke-width="1.7" fill="none" /><path d="M169.84,553.2 L169.84,557.05 A3.15,3.15 0 0 0 176.14,557.05 L176.14,553.2" stroke="#000" stroke-width="1.7" fill="none" /><path d="M181.43,553.2 L181.43,557.05 A3.15,3.15 0 0 0 187.73,557.05 L187.73,553.2" stroke="#000" stroke-width="1.7" fill="none" /><line x1="80.2" y1="581" x2="80.2" y2="614.5" stroke="#000" stroke-width="1.2"/><line x1="211" y1="581" x2="211" y2="614.5" stroke="#000" stroke-width="1.2"/><line x1="80.2" y1="613" x2="136.5" y2="613" stroke="#000" stroke-width="1.25"/><line x1="154.5" y1="613" x2="211" y2="613" stroke="#000" stroke-width="1.25"/><path d="M80.2,613 L85.2,611.4 L85.2,614.6 Z" fill="#000"/><path d="M211,613 L206,614.6 L206,611.4 Z" fill="#000"/><text x="145.5" y="615.9" style='font-family:"Liberation Sans";font-size:8px;font-weight:bold' text-anchor="middle" fill="#000" >E</text><line x1="34.5" y1="584.5" x2="80.2" y2="584.5" stroke="#000" stroke-width="1.2"/><line x1="54.8" y1="594.2" x2="90.2" y2="594.2" stroke="#000" stroke-width="1.2"/><line x1="34.5" y1="599.3" x2="90.2" y2="599.3" stroke="#000" stroke-width="1.2"/><line x1="35.5" y1="574.5" x2="35.5" y2="584.5" stroke="#000" stroke-width="1"/><path d="M35.5,584.5 L34.1,580.5 L36.9,580.5 Z" fill="#000"/><line x1="35.5" y1="599.3" x2="35.5" y2="609.3" stroke="#000" stroke-width="1"/><path d="M35.5,599.3 L36.9,603.3 L34.1,603.3 Z" fill="#000"/><line x1="55.8" y1="574.5" x2="55.8" y2="584.5" stroke="#000" stroke-width="1"/><path d="M55.8,584.5 L54.4,580.5 L57.2,580.5 Z" fill="#000"/><line x1="55.8" y1="594.2" x2="55.8" y2="604.2" stroke="#000" stroke-width="1"/><path d="M55.8,594.2 L57.2,598.2 L54.4,598.2 Z" fill="#000"/><g transform="translate(40.8,621.7) rotate(-90)"><text x="0" y="-1.02" style='font-family:"Liberation Sans";font-size:8px;font-weight:normal' text-anchor="middle" fill="#000" textLength="12.01" lengthAdjust="spacingAndGlyphs" stroke="#000" stroke-width="0.3">4.8</text><text x="0" y="6.78" style='font-family:"Liberation Sans";font-size:8px;font-weight:normal' text-anchor="middle" fill="#000" textLength="26.42" lengthAdjust="spacingAndGlyphs" stroke="#000" stroke-width="0.3">[0.189]</text></g><g transform="translate(61.5,616) rotate(-90)"><text x="0" y="-1.02" style='font-family:"Liberation Sans";font-size:8px;font-weight:normal' text-anchor="middle" fill="#000" textLength="12.01" lengthAdjust="spacingAndGlyphs" stroke="#000" stroke-width="0.3">2.8</text><text x="0" y="6.78" style='font-family:"Liberation Sans";font-size:8px;font-weight:normal' text-anchor="middle" fill="#000" textLength="26.42" lengthAdjust="spacingAndGlyphs" stroke="#000" stroke-width="0.3">[0.110]</text></g><line x1="231" y1="564.3" x2="238.3" y2="564.3" stroke="#000" stroke-width="0.9"/><line x1="231" y1="568.4" x2="238.3" y2="568.4" stroke="#000" stroke-width="0.9"/><line x1="236.8" y1="553.3" x2="236.8" y2="564.3" stroke="#000" stroke-width="1.2"/><path d="M236.8,564.3 L235.5,560.8 L238.1,560.8 Z" fill="#000"/><line x1="236.8" y1="568.4" x2="236.8" y2="578.4" stroke="#000" stroke-width="1.2"/><path d="M236.8,568.4 L238.1,571.9 L235.5,571.9 Z" fill="#000"/><g transform="translate(241,542) rotate(-90)"><text x="0" y="-1.02" style='font-family:"Liberation Sans";font-size:8px;font-weight:normal' text-anchor="middle" fill="#000" textLength="12.01" lengthAdjust="spacingAndGlyphs" stroke="#000" stroke-width="0.3">1.0</text><text x="0" y="6.78" style='font-family:"Liberation Sans";font-size:8px;font-weight:normal' text-anchor="middle" fill="#000" textLength="26.42" lengthAdjust="spacingAndGlyphs" stroke="#000" stroke-width="0.3">[0.039]</text></g><path d="M445.2,600.2 L445.2,586.6 Q445.2,581.6 450.2,581.6 L611.5,581.6 Q616.5,581.6 616.5,586.6 L616.5,600.2" stroke="#000" stroke-width="1.4" fill="none" /><path d="M443.9,604.3 L443.9,613.6 Q443.9,616.6 446.9,616.6 L615.5,616.6 Q618.5,616.6 618.5,613.6 L618.5,604.3" stroke="#000" stroke-width="1.4" fill="none" /><rect x="424.2" y="600.2" width="213.6" height="4.1" rx="1.5" fill="#000"/><rect x="445.9" y="616.6" width="170.6" height="3.4" fill="#555" stroke="#000" stroke-width="0.8"/><path d="M455.9,620 L455.9,632.7 Q455.9,635 458.2,635 Q460.5,635 460.5,632.7 L460.5,620" fill="#d8d8d8" stroke="#000" stroke-width="1.5"/><path d="M463.4,620 L463.4,632.7 Q463.4,635 465.7,635 Q468,635 468,632.7 L468,620" fill="#d8d8d8" stroke="#000" stroke-width="1.5"/><path d="M471,620 L471,632.7 Q471,635 473.3,635 Q475.6,635 475.6,632.7 L475.6,620" fill="#d8d8d8" stroke="#000" stroke-width="1.5"/><path d="M478.6,620 L478.6,632.7 Q478.6,635 480.9,635 Q483.2,635 483.2,632.7 L483.2,620" fill="#d8d8d8" stroke="#000" stroke-width="1.5"/><path d="M579.5,620 L579.5,632.7 Q579.5,635 581.8,635 Q584.1,635 584.1,632.7 L584.1,620" fill="#d8d8d8" stroke="#000" stroke-width="1.5"/><path d="M586.8,620 L586.8,632.7 Q586.8,635 589.1,635 Q591.4,635 591.4,632.7 L591.4,620" fill="#d8d8d8" stroke="#000" stroke-width="1.5"/><path d="M594.2,620 L594.2,632.7 Q594.2,635 596.5,635 Q598.8,635 598.8,632.7 L598.8,620" fill="#d8d8d8" stroke="#000" stroke-width="1.5"/><path d="M600.7,620 L600.7,632.7 Q600.7,635 603,635 Q605.3,635 605.3,632.7 L605.3,620" fill="#d8d8d8" stroke="#000" stroke-width="1.5"/><line x1="484.2" y1="628.5" x2="578.5" y2="628.5" stroke="#000" stroke-width="1.2" stroke-dasharray="14 2.5 2 2.5"/><line x1="484.2" y1="635" x2="578.5" y2="635" stroke="#000" stroke-width="1.2" stroke-dasharray="14 2.5 2 2.5"/><path d="M479.3,588 L479.3,592.05 A3.15,3.15 0 0 0 485.6,592.05 L485.6,588" stroke="#000" stroke-width="1.7" fill="none" /><path d="M491.18,588 L491.18,592.05 A3.15,3.15 0 0 0 497.48,592.05 L497.48,588" stroke="#000" stroke-width="1.7" fill="none" /><path d="M503.05,588 L503.05,592.05 A3.15,3.15 0 0 0 509.35,592.05 L509.35,588" stroke="#000" stroke-width="1.7" fill="none" /><path d="M514.92,588 L514.92,592.05 A3.15,3.15 0 0 0 521.22,592.05 L521.22,588" stroke="#000" stroke-width="1.7" fill="none" /><path d="M526.8,588 L526.8,592.05 A3.15,3.15 0 0 0 533.1,592.05 L533.1,588" stroke="#000" stroke-width="1.7" fill="none" /><path d="M538.67,588 L538.67,592.05 A3.15,3.15 0 0 0 544.97,592.05 L544.97,588" stroke="#000" stroke-width="1.7" fill="none" /><path d="M550.55,588 L550.55,592.05 A3.15,3.15 0 0 0 556.85,592.05 L556.85,588" stroke="#000" stroke-width="1.7" fill="none" /><path d="M562.42,588 L562.42,592.05 A3.15,3.15 0 0 0 568.72,592.05 L568.72,588" stroke="#000" stroke-width="1.7" fill="none" /><path d="M574.3,588 L574.3,592.05 A3.15,3.15 0 0 0 580.6,592.05 L580.6,588" stroke="#000" stroke-width="1.7" fill="none" /><line x1="443.9" y1="616.6" x2="443.9" y2="649.9" stroke="#000" stroke-width="1.2"/><line x1="618.5" y1="616.6" x2="618.5" y2="649.9" stroke="#000" stroke-width="1.2"/><line x1="443.9" y1="648.4" x2="521.7" y2="648.4" stroke="#000" stroke-width="1.25"/><line x1="539.7" y1="648.4" x2="618.5" y2="648.4" stroke="#000" stroke-width="1.25"/><path d="M443.9,648.4 L448.9,646.8 L448.9,650 Z" fill="#000"/><path d="M618.5,648.4 L613.5,650 L613.5,646.8 Z" fill="#000"/><text x="530.7" y="651.3" style='font-family:"Liberation Sans";font-size:8px;font-weight:bold' text-anchor="middle" fill="#000" >E</text><line x1="397.6" y1="620" x2="443.9" y2="620" stroke="#000" stroke-width="1.2"/><line x1="418" y1="628.9" x2="455.9" y2="628.9" stroke="#000" stroke-width="1.2"/><line x1="397.6" y1="635" x2="455.9" y2="635" stroke="#000" stroke-width="1.2"/><line x1="398.6" y1="610" x2="398.6" y2="620" stroke="#000" stroke-width="1"/><path d="M398.6,620 L397.2,616 L400,616 Z" fill="#000"/><line x1="398.6" y1="635" x2="398.6" y2="645" stroke="#000" stroke-width="1"/><path d="M398.6,635 L400,639 L397.2,639 Z" fill="#000"/><line x1="419" y1="610" x2="419" y2="620" stroke="#000" stroke-width="1"/><path d="M419,620 L417.6,616 L420.4,616 Z" fill="#000"/><line x1="419" y1="628.9" x2="419" y2="638.9" stroke="#000" stroke-width="1"/><path d="M419,628.9 L420.4,632.9 L417.6,632.9 Z" fill="#000"/><g transform="translate(403.1,656.5) rotate(-90)"><text x="0" y="-1.02" style='font-family:"Liberation Sans";font-size:8px;font-weight:normal' text-anchor="middle" fill="#000" textLength="12.01" lengthAdjust="spacingAndGlyphs" stroke="#000" stroke-width="0.3">4.8</text><text x="0" y="6.78" style='font-family:"Liberation Sans";font-size:8px;font-weight:normal' text-anchor="middle" fill="#000" textLength="26.42" lengthAdjust="spacingAndGlyphs" stroke="#000" stroke-width="0.3">[0.189]</text></g><g transform="translate(423.9,650.8) rotate(-90)"><text x="0" y="-1.02" style='font-family:"Liberation Sans";font-size:8px;font-weight:normal' text-anchor="middle" fill="#000" textLength="12.01" lengthAdjust="spacingAndGlyphs" stroke="#000" stroke-width="0.3">2.8</text><text x="0" y="6.78" style='font-family:"Liberation Sans";font-size:8px;font-weight:normal' text-anchor="middle" fill="#000" textLength="26.42" lengthAdjust="spacingAndGlyphs" stroke="#000" stroke-width="0.3">[0.110]</text></g><line x1="639.3" y1="600.2" x2="646.2" y2="600.2" stroke="#000" stroke-width="0.9"/><line x1="639.3" y1="604.3" x2="646.2" y2="604.3" stroke="#000" stroke-width="0.9"/><line x1="644.7" y1="589.2" x2="644.7" y2="600.2" stroke="#000" stroke-width="1.2"/><path d="M644.7,600.2 L643.4,596.7 L646,596.7 Z" fill="#000"/><line x1="644.7" y1="604.3" x2="644.7" y2="614.3" stroke="#000" stroke-width="1.2"/><path d="M644.7,604.3 L646,607.8 L643.4,607.8 Z" fill="#000"/><g transform="translate(649.2,576.8) rotate(-90)"><text x="0" y="-1.02" style='font-family:"Liberation Sans";font-size:8px;font-weight:normal' text-anchor="middle" fill="#000" textLength="12.01" lengthAdjust="spacingAndGlyphs" stroke="#000" stroke-width="0.3">1.0</text><text x="0" y="6.78" style='font-family:"Liberation Sans";font-size:8px;font-weight:normal' text-anchor="middle" fill="#000" textLength="26.42" lengthAdjust="spacingAndGlyphs" stroke="#000" stroke-width="0.3">[0.039]</text></g><path d="M85,872.6 L85,859.3 Q85,854.3 90,854.3 L201.4,854.3 Q206.4,854.3 206.4,859.3 L206.4,872.6" stroke="#000" stroke-width="1.4" fill="none" /><path d="M81.2,876.6 L81.2,886.3 Q81.2,889.3 84.2,889.3 L208.7,889.3 Q211.7,889.3 211.7,886.3 L211.7,876.6" stroke="#000" stroke-width="1.4" fill="none" /><rect x="62.5" y="872.6" width="167.5" height="4" rx="1.5" fill="#000"/><rect x="83.2" y="889.3" width="126.5" height="3" fill="#555" stroke="#000" stroke-width="0.8"/><path d="M91.7,892.3 L91.7,904.7 Q91.7,907 94,907 Q96.3,907 96.3,904.7 L96.3,892.3" fill="#d8d8d8" stroke="#000" stroke-width="1.5"/><path d="M98.9,892.3 L98.9,904.7 Q98.9,907 101.2,907 Q103.5,907 103.5,904.7 L103.5,892.3" fill="#d8d8d8" stroke="#000" stroke-width="1.5"/><path d="M106.2,892.3 L106.2,904.7 Q106.2,907 108.5,907 Q110.8,907 110.8,904.7 L110.8,892.3" fill="#d8d8d8" stroke="#000" stroke-width="1.5"/><path d="M113.5,892.3 L113.5,904.7 Q113.5,907 115.8,907 Q118.1,907 118.1,904.7 L118.1,892.3" fill="#d8d8d8" stroke="#000" stroke-width="1.5"/><path d="M117.5,892.3 L117.5,904.7 Q117.5,907 119.8,907 Q122.1,907 122.1,904.7 L122.1,892.3" fill="#d8d8d8" stroke="#000" stroke-width="1.5"/><path d="M174.7,892.3 L174.7,904.7 Q174.7,907 177,907 Q179.3,907 179.3,904.7 L179.3,892.3" fill="#d8d8d8" stroke="#000" stroke-width="1.5"/><path d="M181.9,892.3 L181.9,904.7 Q181.9,907 184.2,907 Q186.5,907 186.5,904.7 L186.5,892.3" fill="#d8d8d8" stroke="#000" stroke-width="1.5"/><path d="M189.2,892.3 L189.2,904.7 Q189.2,907 191.5,907 Q193.8,907 193.8,904.7 L193.8,892.3" fill="#d8d8d8" stroke="#000" stroke-width="1.5"/><path d="M196.5,892.3 L196.5,904.7 Q196.5,907 198.8,907 Q201.1,907 201.1,904.7 L201.1,892.3" fill="#d8d8d8" stroke="#000" stroke-width="1.5"/><line x1="123.1" y1="899.5" x2="173.7" y2="899.5" stroke="#000" stroke-width="1.2" stroke-dasharray="14 2.5 2 2.5"/><line x1="123.1" y1="906.5" x2="173.7" y2="906.5" stroke="#000" stroke-width="1.2" stroke-dasharray="14 2.5 2 2.5"/><line x1="81.2" y1="889.3" x2="81.2" y2="922.5" stroke="#000" stroke-width="1.2"/><line x1="211.7" y1="889.3" x2="211.7" y2="922.5" stroke="#000" stroke-width="1.2"/><line x1="81.2" y1="921" x2="137" y2="921" stroke="#000" stroke-width="1.25"/><line x1="155" y1="921" x2="211.7" y2="921" stroke="#000" stroke-width="1.25"/><path d="M81.2,921 L86.2,919.4 L86.2,922.6 Z" fill="#000"/><path d="M211.7,921 L206.7,922.6 L206.7,919.4 Z" fill="#000"/><text x="146" y="923.9" style='font-family:"Liberation Sans";font-size:8px;font-weight:bold' text-anchor="middle" fill="#000" >E</text><line x1="36" y1="892.3" x2="81.2" y2="892.3" stroke="#000" stroke-width="1.2"/><line x1="56.4" y1="901.9" x2="91.7" y2="901.9" stroke="#000" stroke-width="1.2"/><line x1="36" y1="907" x2="91.7" y2="907" stroke="#000" stroke-width="1.2"/><line x1="37" y1="882.3" x2="37" y2="892.3" stroke="#000" stroke-width="1"/><path d="M37,892.3 L35.6,888.3 L38.4,888.3 Z" fill="#000"/><line x1="37" y1="907" x2="37" y2="917" stroke="#000" stroke-width="1"/><path d="M37,907 L38.4,911 L35.6,911 Z" fill="#000"/><line x1="57.4" y1="882.3" x2="57.4" y2="892.3" stroke="#000" stroke-width="1"/><path d="M57.4,892.3 L56,888.3 L58.8,888.3 Z" fill="#000"/><line x1="57.4" y1="901.9" x2="57.4" y2="911.9" stroke="#000" stroke-width="1"/><path d="M57.4,901.9 L58.8,905.9 L56,905.9 Z" fill="#000"/><g transform="translate(41.9,929.5) rotate(-90)"><text x="0" y="-1.02" style='font-family:"Liberation Sans";font-size:8px;font-weight:normal' text-anchor="middle" fill="#000" textLength="12.01" lengthAdjust="spacingAndGlyphs" stroke="#000" stroke-width="0.3">4.8</text><text x="0" y="6.78" style='font-family:"Liberation Sans";font-size:8px;font-weight:normal' text-anchor="middle" fill="#000" textLength="26.42" lengthAdjust="spacingAndGlyphs" stroke="#000" stroke-width="0.3">[0.189]</text></g><g transform="translate(62.6,923.4) rotate(-90)"><text x="0" y="-1.02" style='font-family:"Liberation Sans";font-size:8px;font-weight:normal' text-anchor="middle" fill="#000" textLength="12.01" lengthAdjust="spacingAndGlyphs" stroke="#000" stroke-width="0.3">2.8</text><text x="0" y="6.78" style='font-family:"Liberation Sans";font-size:8px;font-weight:normal' text-anchor="middle" fill="#000" textLength="26.42" lengthAdjust="spacingAndGlyphs" stroke="#000" stroke-width="0.3">[0.110]</text></g><line x1="231.5" y1="872.6" x2="239.3" y2="872.6" stroke="#000" stroke-width="0.9"/><line x1="231.5" y1="876.6" x2="239.3" y2="876.6" stroke="#000" stroke-width="0.9"/><line x1="237.8" y1="861.6" x2="237.8" y2="872.6" stroke="#000" stroke-width="1.2"/><path d="M237.8,872.6 L236.5,869.1 L239.1,869.1 Z" fill="#000"/><line x1="237.8" y1="876.6" x2="237.8" y2="886.6" stroke="#000" stroke-width="1.2"/><path d="M237.8,876.6 L239.1,880.1 L236.5,880.1 Z" fill="#000"/><g transform="translate(243.4,849) rotate(-90)"><text x="0" y="-1.02" style='font-family:"Liberation Sans";font-size:8px;font-weight:normal' text-anchor="middle" fill="#000" textLength="12.01" lengthAdjust="spacingAndGlyphs" stroke="#000" stroke-width="0.3">1.0</text><text x="0" y="6.78" style='font-family:"Liberation Sans";font-size:8px;font-weight:normal' text-anchor="middle" fill="#000" textLength="26.42" lengthAdjust="spacingAndGlyphs" stroke="#000" stroke-width="0.3">[0.039]</text></g><path d="M450.7,866 L450.7,852.6 Q450.7,847.6 455.7,847.6 L612.7,847.6 Q617.7,847.6 617.7,852.6 L617.7,866" stroke="#000" stroke-width="1.4" fill="none" /><path d="M446.9,870 L446.9,879 Q446.9,882 449.9,882 L618.8,882 Q621.8,882 621.8,879 L621.8,870" stroke="#000" stroke-width="1.4" fill="none" /><rect x="427.3" y="866" width="212.7" height="4" rx="1.5" fill="#000"/><rect x="448.9" y="882" width="170.9" height="4" fill="#555" stroke="#000" stroke-width="0.8"/><path d="M459.7,886 L459.7,898.7 Q459.7,901 462,901 Q464.3,901 464.3,898.7 L464.3,886" fill="#d8d8d8" stroke="#000" stroke-width="1.5"/><path d="M467.3,886 L467.3,898.7 Q467.3,901 469.6,901 Q471.9,901 471.9,898.7 L471.9,886" fill="#d8d8d8" stroke="#000" stroke-width="1.5"/><path d="M474,886 L474,898.7 Q474,901 476.3,901 Q478.6,901 478.6,898.7 L478.6,886" fill="#d8d8d8" stroke="#000" stroke-width="1.5"/><path d="M481.6,886 L481.6,898.7 Q481.6,901 483.9,901 Q486.2,901 486.2,898.7 L486.2,886" fill="#d8d8d8" stroke="#000" stroke-width="1.5"/><path d="M581.7,886 L581.7,898.7 Q581.7,901 584,901 Q586.3,901 586.3,898.7 L586.3,886" fill="#d8d8d8" stroke="#000" stroke-width="1.5"/><path d="M589,886 L589,898.7 Q589,901 591.3,901 Q593.6,901 593.6,898.7 L593.6,886" fill="#d8d8d8" stroke="#000" stroke-width="1.5"/><path d="M596.4,886 L596.4,898.7 Q596.4,901 598.7,901 Q601,901 601,898.7 L601,886" fill="#d8d8d8" stroke="#000" stroke-width="1.5"/><path d="M603.8,886 L603.8,898.7 Q603.8,901 606.1,901 Q608.4,901 608.4,898.7 L608.4,886" fill="#d8d8d8" stroke="#000" stroke-width="1.5"/><line x1="487.2" y1="894" x2="580.7" y2="894" stroke="#000" stroke-width="1.2" stroke-dasharray="14 2.5 2 2.5"/><line x1="487.2" y1="900.5" x2="580.7" y2="900.5" stroke="#000" stroke-width="1.2" stroke-dasharray="14 2.5 2 2.5"/><line x1="446.9" y1="882" x2="446.9" y2="916.1" stroke="#000" stroke-width="1.2"/><line x1="621.8" y1="882" x2="621.8" y2="916.1" stroke="#000" stroke-width="1.2"/><line x1="446.9" y1="914.6" x2="525" y2="914.6" stroke="#000" stroke-width="1.25"/><line x1="543" y1="914.6" x2="621.8" y2="914.6" stroke="#000" stroke-width="1.25"/><path d="M446.9,914.6 L451.9,913 L451.9,916.2 Z" fill="#000"/><path d="M621.8,914.6 L616.8,916.2 L616.8,913 Z" fill="#000"/><text x="534" y="917.5" style='font-family:"Liberation Sans";font-size:8px;font-weight:bold' text-anchor="middle" fill="#000" >E</text><line x1="400.6" y1="886" x2="446.9" y2="886" stroke="#000" stroke-width="1.2"/><line x1="421.7" y1="895.7" x2="459.7" y2="895.7" stroke="#000" stroke-width="1.2"/><line x1="400.6" y1="901" x2="459.7" y2="901" stroke="#000" stroke-width="1.2"/><line x1="401.6" y1="876" x2="401.6" y2="886" stroke="#000" stroke-width="1"/><path d="M401.6,886 L400.2,882 L403,882 Z" fill="#000"/><line x1="401.6" y1="901" x2="401.6" y2="911" stroke="#000" stroke-width="1"/><path d="M401.6,901 L403,905 L400.2,905 Z" fill="#000"/><line x1="422.7" y1="876" x2="422.7" y2="886" stroke="#000" stroke-width="1"/><path d="M422.7,886 L421.3,882 L424.1,882 Z" fill="#000"/><line x1="422.7" y1="895.7" x2="422.7" y2="905.7" stroke="#000" stroke-width="1"/><path d="M422.7,895.7 L424.1,899.7 L421.3,899.7 Z" fill="#000"/><g transform="translate(406.5,924) rotate(-90)"><text x="0" y="-1.02" style='font-family:"Liberation Sans";font-size:8px;font-weight:normal' text-anchor="middle" fill="#000" textLength="12.01" lengthAdjust="spacingAndGlyphs" stroke="#000" stroke-width="0.3">4.8</text><text x="0" y="6.78" style='font-family:"Liberation Sans";font-size:8px;font-weight:normal' text-anchor="middle" fill="#000" textLength="26.42" lengthAdjust="spacingAndGlyphs" stroke="#000" stroke-width="0.3">[0.189]</text></g><g transform="translate(428.4,917.5) rotate(-90)"><text x="0" y="-1.02" style='font-family:"Liberation Sans";font-size:8px;font-weight:normal' text-anchor="middle" fill="#000" textLength="12.01" lengthAdjust="spacingAndGlyphs" stroke="#000" stroke-width="0.3">2.8</text><text x="0" y="6.78" style='font-family:"Liberation Sans";font-size:8px;font-weight:normal' text-anchor="middle" fill="#000" textLength="26.42" lengthAdjust="spacingAndGlyphs" stroke="#000" stroke-width="0.3">[0.110]</text></g><line x1="641.5" y1="866" x2="649.4" y2="866" stroke="#000" stroke-width="0.9"/><line x1="641.5" y1="870" x2="649.4" y2="870" stroke="#000" stroke-width="0.9"/><line x1="647.9" y1="855" x2="647.9" y2="866" stroke="#000" stroke-width="1.2"/><path d="M647.9,866 L646.6,862.5 L649.2,862.5 Z" fill="#000"/><line x1="647.9" y1="870" x2="647.9" y2="880" stroke="#000" stroke-width="1.2"/><path d="M647.9,870 L649.2,873.5 L646.6,873.5 Z" fill="#000"/><g transform="translate(652,841.3) rotate(-90)"><text x="0" y="-1.02" style='font-family:"Liberation Sans";font-size:8px;font-weight:normal' text-anchor="middle" fill="#000" textLength="12.01" lengthAdjust="spacingAndGlyphs" stroke="#000" stroke-width="0.3">1.0</text><text x="0" y="6.78" style='font-family:"Liberation Sans";font-size:8px;font-weight:normal' text-anchor="middle" fill="#000" textLength="26.42" lengthAdjust="spacingAndGlyphs" stroke="#000" stroke-width="0.3">[0.039]</text></g><path d="M277.7,563.8 L277.7,550.7 Q277.7,545.7 282.7,545.7 L304.6,545.7 Q309.6,545.7 309.6,550.7 L309.6,563.8" stroke="#000" stroke-width="1.5" fill="none" /><path d="M276.4,567.8 L276.4,576.6 Q276.4,581.6 281.4,581.6 L305.5,581.6 Q310.5,581.6 310.5,576.6 L310.5,567.8" stroke="#000" stroke-width="1.5" fill="none" /><rect x="273" y="563.8" width="41" height="4" rx="1.8" fill="#000"/><path d="M278.4,581.1 L308.5,581.1 L306.5,584.5 L280,584.5 Z" fill="#666" stroke="#000" stroke-width="0.9"/><path d="M284.5,584.5 L302.5,584.5 L302,589.6 L297.55,593 L289.45,593 L285,589.6 Z" fill="#3a3a3a"/><line x1="289" y1="585.5" x2="289" y2="589.6" stroke="#e0e0e0" stroke-width="1.4"/><line x1="293.5" y1="585.5" x2="293.5" y2="589.6" stroke="#e0e0e0" stroke-width="1.4"/><line x1="298" y1="585.5" x2="298" y2="589.6" stroke="#e0e0e0" stroke-width="1.4"/><line x1="267.4" y1="545.7" x2="320.5" y2="545.7" stroke="#000" stroke-width="1.1"/><line x1="267.4" y1="534.7" x2="267.4" y2="545.7" stroke="#000" stroke-width="1.2"/><path d="M267.4,545.7 L266.1,542.2 L268.7,542.2 Z" fill="#000"/><line x1="320.5" y1="534.7" x2="320.5" y2="545.7" stroke="#000" stroke-width="1.2"/><path d="M320.5,545.7 L319.2,542.2 L321.8,542.2 Z" fill="#000"/><g transform="translate(274.5,519.5) rotate(-90)"><text x="0" y="-1.02" style='font-family:"Liberation Sans";font-size:8px;font-weight:normal' text-anchor="middle" fill="#000" textLength="16.81" lengthAdjust="spacingAndGlyphs" stroke="#000" stroke-width="0.3">11.0</text><text x="0" y="6.78" style='font-family:"Liberation Sans";font-size:8px;font-weight:normal' text-anchor="middle" fill="#000" textLength="26.42" lengthAdjust="spacingAndGlyphs" stroke="#000" stroke-width="0.3">[0.433]</text></g><g transform="translate(323.5,521) rotate(-90)"><text x="0" y="-1.02" style='font-family:"Liberation Sans";font-size:8px;font-weight:normal' text-anchor="middle" fill="#000" textLength="12.01" lengthAdjust="spacingAndGlyphs" stroke="#000" stroke-width="0.3">5.9</text><text x="0" y="6.78" style='font-family:"Liberation Sans";font-size:8px;font-weight:normal' text-anchor="middle" fill="#000" textLength="26.42" lengthAdjust="spacingAndGlyphs" stroke="#000" stroke-width="0.3">[0.232]</text></g><line x1="318.6" y1="563.8" x2="318.6" y2="577.8" stroke="#000" stroke-width="1.2"/><line x1="315.6" y1="563.8" x2="319.6" y2="563.8" stroke="#000" stroke-width="1.2"/><line x1="267.4" y1="581.6" x2="267.4" y2="592.6" stroke="#000" stroke-width="1.2"/><line x1="267.4" y1="581.6" x2="276.4" y2="581.6" stroke="#000" stroke-width="1.2"/><line x1="276.4" y1="581.6" x2="276.4" y2="623" stroke="#000" stroke-width="1.1"/><line x1="310.5" y1="581.6" x2="310.5" y2="623" stroke="#000" stroke-width="1.1"/><line x1="265.4" y1="623" x2="276.4" y2="623" stroke="#000" stroke-width="1.2"/><path d="M276.4,623 L272.9,624.3 L272.9,621.7 Z" fill="#000"/><line x1="310.5" y1="623" x2="321.5" y2="623" stroke="#000" stroke-width="1.2"/><path d="M310.5,623 L314,621.7 L314,624.3 Z" fill="#000"/><line x1="286.7" y1="584.5" x2="286.7" y2="602.4" stroke="#000" stroke-width="1.2"/><line x1="300.5" y1="584.5" x2="300.5" y2="602.4" stroke="#000" stroke-width="1.2"/><line x1="277" y1="602.4" x2="286.7" y2="602.4" stroke="#000" stroke-width="1.2"/><line x1="300.5" y1="602.4" x2="310.5" y2="602.4" stroke="#000" stroke-width="1.2"/><path d="M286.7,602.4 L283.2,603.7 L283.2,601.1 Z" fill="#000"/><path d="M300.5,602.4 L304,601.1 L304,603.7 Z" fill="#000"/><text x="262" y="606.08" style='font-family:"Liberation Sans";font-size:8px;font-weight:normal' text-anchor="middle" fill="#000" textLength="16.81" lengthAdjust="spacingAndGlyphs" stroke="#000" stroke-width="0.3">1.98</text><text x="262" y="614.68" style='font-family:"Liberation Sans";font-size:8px;font-weight:normal' text-anchor="middle" fill="#000" textLength="26.42" lengthAdjust="spacingAndGlyphs" stroke="#000" stroke-width="0.3">[0.078]</text><text x="326.7" y="605.38" style='font-family:"Liberation Sans";font-size:8px;font-weight:normal' text-anchor="middle" fill="#000" textLength="16.81" lengthAdjust="spacingAndGlyphs" stroke="#000" stroke-width="0.3">1.98</text><text x="326.7" y="613.98" style='font-family:"Liberation Sans";font-size:8px;font-weight:normal' text-anchor="middle" fill="#000" textLength="26.42" lengthAdjust="spacingAndGlyphs" stroke="#000" stroke-width="0.3">[0.078]</text><text x="339.5" y="624.88" style='font-family:"Liberation Sans";font-size:8px;font-weight:normal' text-anchor="middle" fill="#000" textLength="21.62" lengthAdjust="spacingAndGlyphs" stroke="#000" stroke-width="0.3">10.72</text><text x="339.5" y="633.48" style='font-family:"Liberation Sans";font-size:8px;font-weight:normal' text-anchor="middle" fill="#000" textLength="26.42" lengthAdjust="spacingAndGlyphs" stroke="#000" stroke-width="0.3">[0.422]</text><path d="M281.6,872.3 L281.6,858.8 Q281.6,853.8 286.6,853.8 L302.3,853.8 Q307.3,853.8 307.3,858.8 L307.3,872.3" stroke="#000" stroke-width="1.5" fill="none" /><path d="M277,876.3 L277,884 Q277,889 282,889 L306.8,889 Q311.8,889 311.8,884 L311.8,876.3" stroke="#000" stroke-width="1.5" fill="none" /><rect x="274.8" y="872.3" width="40" height="4" rx="1.8" fill="#000"/><path d="M279,888.5 L309.8,888.5 L308.5,892 L280.5,892 Z" fill="#666" stroke="#000" stroke-width="0.9"/><path d="M285.4,892 L302,892 L301.5,899.2 L297.44,904 L289.96,904 L285.9,899.2 Z" fill="#3a3a3a"/><line x1="289.55" y1="893" x2="289.55" y2="899.2" stroke="#e0e0e0" stroke-width="1.4"/><line x1="293.7" y1="893" x2="293.7" y2="899.2" stroke="#e0e0e0" stroke-width="1.4"/><line x1="297.85" y1="893" x2="297.85" y2="899.2" stroke="#e0e0e0" stroke-width="1.4"/><line x1="269.5" y1="853.8" x2="321.6" y2="853.8" stroke="#000" stroke-width="1.1"/><line x1="269.5" y1="842.8" x2="269.5" y2="853.8" stroke="#000" stroke-width="1.2"/><path d="M269.5,853.8 L268.2,850.3 L270.8,850.3 Z" fill="#000"/><line x1="321.6" y1="842.8" x2="321.6" y2="853.8" stroke="#000" stroke-width="1.2"/><path d="M321.6,853.8 L320.3,850.3 L322.9,850.3 Z" fill="#000"/><g transform="translate(274.5,827.8) rotate(-90)"><text x="0" y="-1.02" style='font-family:"Liberation Sans";font-size:8px;font-weight:normal' text-anchor="middle" fill="#000" textLength="16.81" lengthAdjust="spacingAndGlyphs" stroke="#000" stroke-width="0.3">11.0</text><text x="0" y="6.78" style='font-family:"Liberation Sans";font-size:8px;font-weight:normal' text-anchor="middle" fill="#000" textLength="26.42" lengthAdjust="spacingAndGlyphs" stroke="#000" stroke-width="0.3">[0.433]</text></g><g transform="translate(325.8,830.5) rotate(-90)"><text x="0" y="-1.02" style='font-family:"Liberation Sans";font-size:8px;font-weight:normal' text-anchor="middle" fill="#000" textLength="12.01" lengthAdjust="spacingAndGlyphs" stroke="#000" stroke-width="0.3">5.9</text><text x="0" y="6.78" style='font-family:"Liberation Sans";font-size:8px;font-weight:normal' text-anchor="middle" fill="#000" textLength="26.42" lengthAdjust="spacingAndGlyphs" stroke="#000" stroke-width="0.3">[0.232]</text></g><line x1="320" y1="872.3" x2="320" y2="886.3" stroke="#000" stroke-width="1.2"/><line x1="317" y1="872.3" x2="321" y2="872.3" stroke="#000" stroke-width="1.2"/><line x1="269" y1="889" x2="269" y2="900" stroke="#000" stroke-width="1.2"/><line x1="269" y1="889" x2="277" y2="889" stroke="#000" stroke-width="1.2"/><line x1="277" y1="889" x2="277" y2="932.8" stroke="#000" stroke-width="1.1"/><line x1="311.8" y1="889" x2="311.8" y2="932.8" stroke="#000" stroke-width="1.1"/><line x1="266" y1="932.8" x2="277" y2="932.8" stroke="#000" stroke-width="1.2"/><path d="M277,932.8 L273.5,934.1 L273.5,931.5 Z" fill="#000"/><line x1="311.8" y1="932.8" x2="322.8" y2="932.8" stroke="#000" stroke-width="1.2"/><path d="M311.8,932.8 L315.3,931.5 L315.3,934.1 Z" fill="#000"/><line x1="287" y1="892" x2="287" y2="912" stroke="#000" stroke-width="1.2"/><line x1="300.5" y1="892" x2="300.5" y2="912" stroke="#000" stroke-width="1.2"/><line x1="277" y1="912" x2="287" y2="912" stroke="#000" stroke-width="1.2"/><line x1="300.5" y1="912" x2="311.8" y2="912" stroke="#000" stroke-width="1.2"/><path d="M287,912 L283.5,913.3 L283.5,910.7 Z" fill="#000"/><path d="M300.5,912 L304,910.7 L304,913.3 Z" fill="#000"/><text x="261.6" y="915.88" style='font-family:"Liberation Sans";font-size:8px;font-weight:normal' text-anchor="middle" fill="#000" textLength="16.81" lengthAdjust="spacingAndGlyphs" stroke="#000" stroke-width="0.3">1.98</text><text x="261.6" y="924.48" style='font-family:"Liberation Sans";font-size:8px;font-weight:normal' text-anchor="middle" fill="#000" textLength="26.42" lengthAdjust="spacingAndGlyphs" stroke="#000" stroke-width="0.3">[0.078]</text><text x="328" y="915.88" style='font-family:"Liberation Sans";font-size:8px;font-weight:normal' text-anchor="middle" fill="#000" textLength="16.81" lengthAdjust="spacingAndGlyphs" stroke="#000" stroke-width="0.3">1.98</text><text x="328" y="924.48" style='font-family:"Liberation Sans";font-size:8px;font-weight:normal' text-anchor="middle" fill="#000" textLength="26.42" lengthAdjust="spacingAndGlyphs" stroke="#000" stroke-width="0.3">[0.078]</text><text x="335.5" y="932.58" style='font-family:"Liberation Sans";font-size:8px;font-weight:normal' text-anchor="middle" fill="#000" textLength="21.62" lengthAdjust="spacingAndGlyphs" stroke="#000" stroke-width="0.3">10.72</text><text x="335.5" y="941.18" style='font-family:"Liberation Sans";font-size:8px;font-weight:normal' text-anchor="middle" fill="#000" textLength="26.42" lengthAdjust="spacingAndGlyphs" stroke="#000" stroke-width="0.3">[0.422]</text><path d="M687.8,599.5 L687.8,586.5 Q687.8,581.5 692.8,581.5 L722.7,581.5 Q727.7,581.5 727.7,586.5 L727.7,599.5" stroke="#000" stroke-width="1.5" fill="none" /><path d="M686,603.4 L686,610.5 Q686,615.5 691,615.5 L724.3,615.5 Q729.3,615.5 729.3,610.5 L729.3,603.4" stroke="#000" stroke-width="1.5" fill="none" /><rect x="682.9" y="599.5" width="48.7" height="3.9" rx="1.8" fill="#000"/><path d="M688,615 L727.3,615 L725.2,618 L689.2,618 Z" fill="#666" stroke="#000" stroke-width="0.9"/><path d="M697.4,618 L718.7,618 L718.2,627.78 L712.84,634.3 L703.26,634.3 L697.9,627.78 Z" fill="#3a3a3a"/><line x1="702.73" y1="619" x2="702.73" y2="627.78" stroke="#e0e0e0" stroke-width="1.4"/><line x1="708.05" y1="619" x2="708.05" y2="627.78" stroke="#e0e0e0" stroke-width="1.4"/><line x1="713.38" y1="619" x2="713.38" y2="627.78" stroke="#e0e0e0" stroke-width="1.4"/><line x1="676" y1="581.5" x2="737.5" y2="581.5" stroke="#000" stroke-width="1.1"/><line x1="676" y1="570.5" x2="676" y2="581.5" stroke="#000" stroke-width="1.2"/><path d="M676,581.5 L674.7,578 L677.3,578 Z" fill="#000"/><line x1="737.5" y1="570.5" x2="737.5" y2="581.5" stroke="#000" stroke-width="1.2"/><path d="M737.5,581.5 L736.2,578 L738.8,578 Z" fill="#000"/><g transform="translate(679.9,554.5) rotate(-90)"><text x="0" y="-1.02" style='font-family:"Liberation Sans";font-size:8px;font-weight:normal' text-anchor="middle" fill="#000" textLength="16.81" lengthAdjust="spacingAndGlyphs" stroke="#000" stroke-width="0.3">11.0</text><text x="0" y="6.78" style='font-family:"Liberation Sans";font-size:8px;font-weight:normal' text-anchor="middle" fill="#000" textLength="26.42" lengthAdjust="spacingAndGlyphs" stroke="#000" stroke-width="0.3">[0.433]</text></g><g transform="translate(743.2,558) rotate(-90)"><text x="0" y="-1.02" style='font-family:"Liberation Sans";font-size:8px;font-weight:normal' text-anchor="middle" fill="#000" textLength="12.01" lengthAdjust="spacingAndGlyphs" stroke="#000" stroke-width="0.3">5.9</text><text x="0" y="6.78" style='font-family:"Liberation Sans";font-size:8px;font-weight:normal' text-anchor="middle" fill="#000" textLength="26.42" lengthAdjust="spacingAndGlyphs" stroke="#000" stroke-width="0.3">[0.232]</text></g><line x1="737" y1="599.5" x2="737" y2="613.4" stroke="#000" stroke-width="1.2"/><line x1="734" y1="599.5" x2="738" y2="599.5" stroke="#000" stroke-width="1.2"/><line x1="675.3" y1="615.5" x2="675.3" y2="626.5" stroke="#000" stroke-width="1.2"/><line x1="675.3" y1="615.5" x2="686" y2="615.5" stroke="#000" stroke-width="1.2"/><line x1="686" y1="615.5" x2="686" y2="672" stroke="#000" stroke-width="1.1"/><line x1="729.3" y1="615.5" x2="729.3" y2="672" stroke="#000" stroke-width="1.1"/><line x1="675" y1="672" x2="686" y2="672" stroke="#000" stroke-width="1.2"/><path d="M686,672 L682.5,673.3 L682.5,670.7 Z" fill="#000"/><line x1="729.3" y1="672" x2="740.3" y2="672" stroke="#000" stroke-width="1.2"/><path d="M729.3,672 L732.8,670.7 L732.8,673.3 Z" fill="#000"/><line x1="698.2" y1="624.5" x2="698.2" y2="656.4" stroke="#000" stroke-width="1.2"/><line x1="717" y1="624.5" x2="717" y2="656.4" stroke="#000" stroke-width="1.2"/><line x1="686" y1="655.6" x2="698.2" y2="655.6" stroke="#000" stroke-width="1.2"/><line x1="717" y1="655.6" x2="729.3" y2="655.6" stroke="#000" stroke-width="1.2"/><line x1="698.2" y1="640.9" x2="709.7" y2="640.9" stroke="#000" stroke-width="1.2"/><line x1="717" y1="640.9" x2="729.3" y2="640.9" stroke="#000" stroke-width="1.2"/><line x1="709.7" y1="634" x2="709.7" y2="641.5" stroke="#000" stroke-width="1.2"/><path d="M698.2,655.6 L694.7,656.9 L694.7,654.3 Z" fill="#000"/><path d="M717,655.6 L720.5,654.3 L720.5,656.9 Z" fill="#000"/><text x="671.3" y="659.88" style='font-family:"Liberation Sans";font-size:8px;font-weight:normal' text-anchor="middle" fill="#000" textLength="16.81" lengthAdjust="spacingAndGlyphs" stroke="#000" stroke-width="0.3">5.94</text><text x="671.3" y="668.48" style='font-family:"Liberation Sans";font-size:8px;font-weight:normal' text-anchor="middle" fill="#000" textLength="26.42" lengthAdjust="spacingAndGlyphs" stroke="#000" stroke-width="0.3">[0.234]</text><text x="744.9" y="645.58" style='font-family:"Liberation Sans";font-size:8px;font-weight:normal' text-anchor="middle" fill="#000" textLength="16.81" lengthAdjust="spacingAndGlyphs" stroke="#000" stroke-width="0.3">1.98</text><text x="744.9" y="654.18" style='font-family:"Liberation Sans";font-size:8px;font-weight:normal' text-anchor="middle" fill="#000" textLength="26.42" lengthAdjust="spacingAndGlyphs" stroke="#000" stroke-width="0.3">[0.078]</text><text x="757.9" y="676.68" style='font-family:"Liberation Sans";font-size:8px;font-weight:normal' text-anchor="middle" fill="#000" textLength="21.62" lengthAdjust="spacingAndGlyphs" stroke="#000" stroke-width="0.3">13.56</text><text x="757.9" y="685.28" style='font-family:"Liberation Sans";font-size:8px;font-weight:normal' text-anchor="middle" fill="#000" textLength="26.42" lengthAdjust="spacingAndGlyphs" stroke="#000" stroke-width="0.3">[0.534]</text><path d="M692.6,864.3 L692.6,851.8 Q692.6,846.8 697.6,846.8 L723.7,846.8 Q728.7,846.8 728.7,851.8 L728.7,864.3" stroke="#000" stroke-width="1.5" fill="none" /><path d="M688.7,868.2 L688.7,876 Q688.7,881 693.7,881 L726.6,881 Q731.6,881 731.6,876 L731.6,868.2" stroke="#000" stroke-width="1.5" fill="none" /><rect x="685.2" y="864.3" width="49.8" height="3.9" rx="1.8" fill="#000"/><path d="M690.7,880.5 L729.6,880.5 L727.7,883.8 L692.6,883.8 Z" fill="#666" stroke="#000" stroke-width="0.9"/><path d="M699.5,883.8 L721,883.8 L720.5,892.02 L715.09,897.5 L705.41,897.5 L700,892.02 Z" fill="#3a3a3a"/><line x1="704.88" y1="884.8" x2="704.88" y2="892.02" stroke="#e0e0e0" stroke-width="1.4"/><line x1="710.25" y1="884.8" x2="710.25" y2="892.02" stroke="#e0e0e0" stroke-width="1.4"/><line x1="715.62" y1="884.8" x2="715.62" y2="892.02" stroke="#e0e0e0" stroke-width="1.4"/><line x1="677" y1="846.8" x2="742.4" y2="846.8" stroke="#000" stroke-width="1.1"/><line x1="677" y1="835.8" x2="677" y2="846.8" stroke="#000" stroke-width="1.2"/><path d="M677,846.8 L675.7,843.3 L678.3,843.3 Z" fill="#000"/><line x1="742.4" y1="835.8" x2="742.4" y2="846.8" stroke="#000" stroke-width="1.2"/><path d="M742.4,846.8 L741.1,843.3 L743.7,843.3 Z" fill="#000"/><g transform="translate(682.9,821) rotate(-90)"><text x="0" y="-1.02" style='font-family:"Liberation Sans";font-size:8px;font-weight:normal' text-anchor="middle" fill="#000" textLength="16.81" lengthAdjust="spacingAndGlyphs" stroke="#000" stroke-width="0.3">11.0</text><text x="0" y="6.78" style='font-family:"Liberation Sans";font-size:8px;font-weight:normal' text-anchor="middle" fill="#000" textLength="26.42" lengthAdjust="spacingAndGlyphs" stroke="#000" stroke-width="0.3">[0.433]</text></g><g transform="translate(745.7,822) rotate(-90)"><text x="0" y="-1.02" style='font-family:"Liberation Sans";font-size:8px;font-weight:normal' text-anchor="middle" fill="#000" textLength="12.01" lengthAdjust="spacingAndGlyphs" stroke="#000" stroke-width="0.3">5.9</text><text x="0" y="6.78" style='font-family:"Liberation Sans";font-size:8px;font-weight:normal' text-anchor="middle" fill="#000" textLength="26.42" lengthAdjust="spacingAndGlyphs" stroke="#000" stroke-width="0.3">[0.232]</text></g><line x1="742" y1="864.3" x2="742" y2="878.2" stroke="#000" stroke-width="1.2"/><line x1="739" y1="864.3" x2="743" y2="864.3" stroke="#000" stroke-width="1.2"/><line x1="677" y1="881" x2="677" y2="892" stroke="#000" stroke-width="1.2"/><line x1="677" y1="881" x2="688.7" y2="881" stroke="#000" stroke-width="1.2"/><line x1="688.7" y1="881" x2="688.7" y2="939.4" stroke="#000" stroke-width="1.1"/><line x1="731.6" y1="881" x2="731.6" y2="939.4" stroke="#000" stroke-width="1.1"/><line x1="677.7" y1="939.4" x2="688.7" y2="939.4" stroke="#000" stroke-width="1.2"/><path d="M688.7,939.4 L685.2,940.7 L685.2,938.1 Z" fill="#000"/><line x1="731.6" y1="939.4" x2="742.6" y2="939.4" stroke="#000" stroke-width="1.2"/><path d="M731.6,939.4 L735.1,938.1 L735.1,940.7 Z" fill="#000"/><line x1="700.5" y1="890" x2="700.5" y2="922" stroke="#000" stroke-width="1.2"/><line x1="719.5" y1="890" x2="719.5" y2="922" stroke="#000" stroke-width="1.2"/><line x1="689.7" y1="921.5" x2="700.5" y2="921.5" stroke="#000" stroke-width="1.2"/><line x1="719.5" y1="921.5" x2="731.6" y2="921.5" stroke="#000" stroke-width="1.2"/><line x1="700.5" y1="906.3" x2="713" y2="906.3" stroke="#000" stroke-width="1.2"/><line x1="719.5" y1="906.3" x2="731.6" y2="906.3" stroke="#000" stroke-width="1.2"/><line x1="713" y1="898" x2="713" y2="907" stroke="#000" stroke-width="1.2"/><path d="M700.5,921.5 L697,922.8 L697,920.2 Z" fill="#000"/><path d="M719.5,921.5 L723,920.2 L723,922.8 Z" fill="#000"/><text x="674.2" y="925.28" style='font-family:"Liberation Sans";font-size:8px;font-weight:normal' text-anchor="middle" fill="#000" textLength="16.81" lengthAdjust="spacingAndGlyphs" stroke="#000" stroke-width="0.3">5.94</text><text x="674.2" y="933.88" style='font-family:"Liberation Sans";font-size:8px;font-weight:normal' text-anchor="middle" fill="#000" textLength="26.42" lengthAdjust="spacingAndGlyphs" stroke="#000" stroke-width="0.3">[0.234]</text><text x="747.3" y="909.78" style='font-family:"Liberation Sans";font-size:8px;font-weight:normal' text-anchor="middle" fill="#000" textLength="16.81" lengthAdjust="spacingAndGlyphs" stroke="#000" stroke-width="0.3">1.98</text><text x="747.3" y="918.38" style='font-family:"Liberation Sans";font-size:8px;font-weight:normal' text-anchor="middle" fill="#000" textLength="26.42" lengthAdjust="spacingAndGlyphs" stroke="#000" stroke-width="0.3">[0.078]</text><text x="760.7" y="940.88" style='font-family:"Liberation Sans";font-size:8px;font-weight:normal' text-anchor="middle" fill="#000" textLength="21.62" lengthAdjust="spacingAndGlyphs" stroke="#000" stroke-width="0.3">13.56</text><text x="760.7" y="949.48" style='font-family:"Liberation Sans";font-size:8px;font-weight:normal' text-anchor="middle" fill="#000" textLength="26.42" lengthAdjust="spacingAndGlyphs" stroke="#000" stroke-width="0.3">[0.534]</text><defs><filter id="soft" x="-5%" y="-5%" width="110%" height="110%"><feGaussianBlur stdDeviation="0.5"/></filter></defs><g filter="url(#soft)"><path d="M541,100 L655,99 L667,103 L667,128 L655,131 L541,132 L530,128 L530,103 Z" fill="#f6f6f6"/><rect x="545.5" y="95.5" width="102.5" height="7.5" fill="#777"/><rect x="547.0" y="96.5" width="3" height="2.6" fill="#222"/><rect x="548.0" y="100" width="3" height="2" fill="#eee"/><rect x="552.6" y="96.5" width="3" height="2.6" fill="#222"/><rect x="553.6" y="100" width="3" height="2" fill="#eee"/><rect x="558.2" y="96.5" width="3" height="2.6" fill="#222"/><rect x="559.2" y="100" width="3" height="2" fill="#eee"/><rect x="563.8" y="96.5" width="3" height="2.6" fill="#222"/><rect x="564.8" y="100" width="3" height="2" fill="#eee"/><rect x="569.4" y="96.5" width="3" height="2.6" fill="#222"/><rect x="570.4" y="100" width="3" height="2" fill="#eee"/><rect x="575.0" y="96.5" width="3" height="2.6" fill="#222"/><rect x="576.0" y="100" width="3" height="2" fill="#eee"/><rect x="580.6" y="96.5" width="3" height="2.6" fill="#222"/><rect x="581.6" y="100" width="3" height="2" fill="#eee"/><rect x="586.2" y="96.5" width="3" height="2.6" fill="#222"/><rect x="587.2" y="100" width="3" height="2" fill="#eee"/><rect x="591.8" y="96.5" width="3" height="2.6" fill="#222"/><rect x="592.8" y="100" width="3" height="2" fill="#eee"/><rect x="597.4" y="96.5" width="3" height="2.6" fill="#222"/><rect x="598.4" y="100" width="3" height="2" fill="#eee"/><rect x="603.0" y="96.5" width="3" height="2.6" fill="#222"/><rect x="604.0" y="100" width="3" height="2" fill="#eee"/><rect x="608.6" y="96.5" width="3" height="2.6" fill="#222"/><rect x="609.6" y="100" width="3" height="2" fill="#eee"/><rect x="614.2" y="96.5" width="3" height="2.6" fill="#222"/><rect x="615.2" y="100" width="3" height="2" fill="#eee"/><rect x="619.8" y="96.5" width="3" height="2.6" fill="#222"/><rect x="620.8" y="100" width="3" height="2" fill="#eee"/><rect x="625.4" y="96.5" width="3" height="2.6" fill="#222"/><rect x="626.4" y="100" width="3" height="2" fill="#eee"/><rect x="631.0" y="96.5" width="3" height="2.6" fill="#222"/><rect x="632.0" y="100" width="3" height="2" fill="#eee"/><rect x="636.6" y="96.5" width="3" height="2.6" fill="#222"/><rect x="637.6" y="100" width="3" height="2" fill="#eee"/><rect x="642.2" y="96.5" width="3" height="2.6" fill="#222"/><rect x="643.2" y="100" width="3" height="2" fill="#eee"/><path d="M547,103 L648,103 Q651,103 651,106 L650.5,126 Q650,129.5 646,129.5 L549,129.5 Q545,129.5 545,126 L544.8,106 Q544.8,103 547,103 Z" fill="#0c0c0c"/><rect x="551.0" y="106.8" width="2" height="1.6" fill="#bbb"/><rect x="556.6" y="106.8" width="2" height="1.6" fill="#bbb"/><rect x="562.3" y="106.8" width="2" height="1.6" fill="#bbb"/><rect x="568.0" y="106.8" width="2" height="1.6" fill="#bbb"/><rect x="573.6" y="106.8" width="2" height="1.6" fill="#bbb"/><rect x="579.2" y="106.8" width="2" height="1.6" fill="#bbb"/><rect x="584.9" y="106.8" width="2" height="1.6" fill="#bbb"/><rect x="590.5" y="106.8" width="2" height="1.6" fill="#bbb"/><rect x="596.2" y="106.8" width="2" height="1.6" fill="#bbb"/><rect x="601.9" y="106.8" width="2" height="1.6" fill="#bbb"/><rect x="607.5" y="106.8" width="2" height="1.6" fill="#bbb"/><rect x="613.1" y="106.8" width="2" height="1.6" fill="#bbb"/><rect x="618.8" y="106.8" width="2" height="1.6" fill="#bbb"/><rect x="624.5" y="106.8" width="2" height="1.6" fill="#bbb"/><rect x="630.1" y="106.8" width="2" height="1.6" fill="#bbb"/><rect x="635.8" y="106.8" width="2" height="1.6" fill="#bbb"/><rect x="641.4" y="106.8" width="2" height="1.6" fill="#bbb"/><rect x="553.8" y="111.6" width="2" height="1.6" fill="#bbb"/><rect x="559.4" y="111.6" width="2" height="1.6" fill="#bbb"/><rect x="565.1" y="111.6" width="2" height="1.6" fill="#bbb"/><rect x="570.8" y="111.6" width="2" height="1.6" fill="#bbb"/><rect x="576.4" y="111.6" width="2" height="1.6" fill="#bbb"/><rect x="582.0" y="111.6" width="2" height="1.6" fill="#bbb"/><rect x="587.7" y="111.6" width="2" height="1.6" fill="#bbb"/><rect x="593.3" y="111.6" width="2" height="1.6" fill="#bbb"/><rect x="599.0" y="111.6" width="2" height="1.6" fill="#bbb"/><rect x="604.6" y="111.6" width="2" height="1.6" fill="#bbb"/><rect x="610.3" y="111.6" width="2" height="1.6" fill="#bbb"/><rect x="615.9" y="111.6" width="2" height="1.6" fill="#bbb"/><rect x="621.6" y="111.6" width="2" height="1.6" fill="#bbb"/><rect x="627.2" y="111.6" width="2" height="1.6" fill="#bbb"/><rect x="632.9" y="111.6" width="2" height="1.6" fill="#bbb"/><rect x="638.5" y="111.6" width="2" height="1.6" fill="#bbb"/><rect x="551.0" y="115.6" width="2" height="1.6" fill="#bbb"/><rect x="556.6" y="115.6" width="2" height="1.6" fill="#bbb"/><rect x="562.3" y="115.6" width="2" height="1.6" fill="#bbb"/><rect x="568.0" y="115.6" width="2" height="1.6" fill="#bbb"/><rect x="573.6" y="115.6" width="2" height="1.6" fill="#bbb"/><rect x="579.2" y="115.6" width="2" height="1.6" fill="#bbb"/><rect x="584.9" y="115.6" width="2" height="1.6" fill="#bbb"/><rect x="590.5" y="115.6" width="2" height="1.6" fill="#bbb"/><rect x="596.2" y="115.6" width="2" height="1.6" fill="#bbb"/><rect x="601.9" y="115.6" width="2" height="1.6" fill="#bbb"/><rect x="607.5" y="115.6" width="2" height="1.6" fill="#bbb"/><rect x="613.1" y="115.6" width="2" height="1.6" fill="#bbb"/><rect x="618.8" y="115.6" width="2" height="1.6" fill="#bbb"/><rect x="624.5" y="115.6" width="2" height="1.6" fill="#bbb"/><rect x="630.1" y="115.6" width="2" height="1.6" fill="#bbb"/><rect x="635.8" y="115.6" width="2" height="1.6" fill="#bbb"/><rect x="641.4" y="115.6" width="2" height="1.6" fill="#bbb"/><rect x="553.8" y="120.0" width="2" height="1.6" fill="#bbb"/><rect x="559.4" y="120.0" width="2" height="1.6" fill="#bbb"/><rect x="565.1" y="120.0" width="2" height="1.6" fill="#bbb"/><rect x="570.8" y="120.0" width="2" height="1.6" fill="#bbb"/><rect x="576.4" y="120.0" width="2" height="1.6" fill="#bbb"/><rect x="582.0" y="120.0" width="2" height="1.6" fill="#bbb"/><rect x="587.7" y="120.0" width="2" height="1.6" fill="#bbb"/><rect x="593.3" y="120.0" width="2" height="1.6" fill="#bbb"/><rect x="599.0" y="120.0" width="2" height="1.6" fill="#bbb"/><rect x="604.6" y="120.0" width="2" height="1.6" fill="#bbb"/><rect x="610.3" y="120.0" width="2" height="1.6" fill="#bbb"/><rect x="615.9" y="120.0" width="2" height="1.6" fill="#bbb"/><rect x="621.6" y="120.0" width="2" height="1.6" fill="#bbb"/><rect x="627.2" y="120.0" width="2" height="1.6" fill="#bbb"/><rect x="632.9" y="120.0" width="2" height="1.6" fill="#bbb"/><rect x="638.5" y="120.0" width="2" height="1.6" fill="#bbb"/><path d="M532,106 L541,104 L542,110 L539,112 L541,120 L533,121 L535,113 L531,112 Z" fill="#111"/><rect x="653" y="103" width="11" height="23" fill="#aaa"/><path d="M655,106 L662,106 L662,112 L658,113 L663,121 L655,122 L657,114 L654,112 Z" fill="#222"/><path d="M699,99 L727,107 L704,182 L700,195 L672,190 L676,174 Z" fill="#e6e6e6" stroke="#888" stroke-width="0.8"/><path d="M702.3,103 L722.4,109.1 L701.2,175.5 L678.1,171.5 Z" fill="#0a0a0a"/><path d="M722.4,109.1 L727,111 L705,178 L701.2,175.5 Z" fill="#777"/><rect x="704.0" y="110.0" width="1.5" height="1.3" fill="#ccc"/><rect x="709.5" y="111.6" width="1.5" height="1.3" fill="#ccc"/><rect x="715.0" y="113.2" width="1.5" height="1.3" fill="#ccc"/><rect x="701.9" y="115.3" width="1.5" height="1.3" fill="#ccc"/><rect x="707.4" y="116.9" width="1.5" height="1.3" fill="#ccc"/><rect x="712.9" y="118.5" width="1.5" height="1.3" fill="#ccc"/><rect x="699.8" y="120.6" width="1.5" height="1.3" fill="#ccc"/><rect x="705.3" y="122.2" width="1.5" height="1.3" fill="#ccc"/><rect x="710.8" y="123.8" width="1.5" height="1.3" fill="#ccc"/><rect x="697.7" y="125.9" width="1.5" height="1.3" fill="#ccc"/><rect x="703.2" y="127.5" width="1.5" height="1.3" fill="#ccc"/><rect x="708.7" y="129.1" width="1.5" height="1.3" fill="#ccc"/><rect x="695.6" y="131.2" width="1.5" height="1.3" fill="#ccc"/><rect x="701.1" y="132.8" width="1.5" height="1.3" fill="#ccc"/><rect x="706.6" y="134.4" width="1.5" height="1.3" fill="#ccc"/><rect x="693.5" y="136.5" width="1.5" height="1.3" fill="#ccc"/><rect x="699.0" y="138.1" width="1.5" height="1.3" fill="#ccc"/><rect x="704.5" y="139.7" width="1.5" height="1.3" fill="#ccc"/><rect x="691.4" y="141.8" width="1.5" height="1.3" fill="#ccc"/><rect x="696.9" y="143.4" width="1.5" height="1.3" fill="#ccc"/><rect x="702.4" y="145.0" width="1.5" height="1.3" fill="#ccc"/><rect x="689.3" y="147.1" width="1.5" height="1.3" fill="#ccc"/><rect x="694.8" y="148.7" width="1.5" height="1.3" fill="#ccc"/><rect x="700.3" y="150.3" width="1.5" height="1.3" fill="#ccc"/><rect x="687.2" y="152.4" width="1.5" height="1.3" fill="#ccc"/><rect x="692.7" y="154.0" width="1.5" height="1.3" fill="#ccc"/><rect x="698.2" y="155.6" width="1.5" height="1.3" fill="#ccc"/><rect x="685.1" y="157.7" width="1.5" height="1.3" fill="#ccc"/><rect x="690.6" y="159.3" width="1.5" height="1.3" fill="#ccc"/><rect x="696.1" y="160.9" width="1.5" height="1.3" fill="#ccc"/><rect x="683.0" y="163.0" width="1.5" height="1.3" fill="#ccc"/><rect x="688.5" y="164.6" width="1.5" height="1.3" fill="#ccc"/><rect x="694.0" y="166.2" width="1.5" height="1.3" fill="#ccc"/><rect x="680.9" y="168.3" width="1.5" height="1.3" fill="#ccc"/><rect x="686.4" y="169.9" width="1.5" height="1.3" fill="#ccc"/><rect x="691.9" y="171.5" width="1.5" height="1.3" fill="#ccc"/><path d="M676,175 L701,178 L699,192 L673,189 Z" fill="#ddd"/><rect x="677" y="177" width="8" height="6" fill="#111"/><rect x="689" y="178" width="8" height="5" fill="#222"/><rect x="676" y="185" width="7" height="5" fill="#111"/><rect x="688" y="186" width="9" height="4" fill="#222"/><path d="M566.2,160.6 L590.4,166.6 L561.7,225.5 L536,216.4 Z" fill="#5a5a5a"/><path d="M565,163.2 L584,167.2 L559,206 L543.5,200 Z" fill="#e8e8e8"/><path d="M584,167.2 L590,168.5 L565,212 L559,206 Z" fill="#2a2a2a"/><path d="M571,166 L579,168 L557,201 L550,198 Z" fill="#f8f8f8"/><circle cx="569.0" cy="170.0" r="1.3" fill="#333"/><circle cx="573.6" cy="171.0" r="1.3" fill="#333"/><circle cx="565.8" cy="174.6" r="1.3" fill="#333"/><circle cx="570.4" cy="175.6" r="1.3" fill="#333"/><circle cx="562.6" cy="179.2" r="1.3" fill="#333"/><circle cx="567.2" cy="180.2" r="1.3" fill="#333"/><circle cx="559.4" cy="183.8" r="1.3" fill="#333"/><circle cx="564.0" cy="184.8" r="1.3" fill="#333"/><circle cx="556.2" cy="188.4" r="1.3" fill="#333"/><circle cx="560.8" cy="189.4" r="1.3" fill="#333"/><circle cx="553.0" cy="193.0" r="1.3" fill="#333"/><circle cx="557.6" cy="194.0" r="1.3" fill="#333"/><circle cx="549.8" cy="197.6" r="1.3" fill="#333"/><circle cx="554.4" cy="198.6" r="1.3" fill="#333"/><path d="M543.5,200 L559,206 L565,212 L561.7,225.5 L537,217 Z" fill="#3a3a3a"/><circle cx="549" cy="214.5" r="3.6" fill="#aaa"/><circle cx="549" cy="214.5" r="1.5" fill="#555"/><path d="M612,160 L640,163 L637,200 L633,208 L611,206 L608,184 Z" fill="#eeeeee" stroke="#aaa" stroke-width="0.7"/><path d="M617,164 L637,166 L630,186 L613,184 Z" fill="#151515"/><path d="M637,166 L640.5,167 L634,190 L630,186 Z" fill="#777"/><rect x="620.0" y="167.0" width="2" height="1.6" fill="#bbb"/><rect x="627.0" y="168.0" width="2" height="1.6" fill="#bbb"/><rect x="620.8" y="171.3" width="2" height="1.6" fill="#bbb"/><rect x="627.6" y="172.3" width="2" height="1.6" fill="#bbb"/><rect x="621.6" y="175.6" width="2" height="1.6" fill="#bbb"/><rect x="628.2" y="176.6" width="2" height="1.6" fill="#bbb"/><rect x="622.4" y="179.9" width="2" height="1.6" fill="#bbb"/><rect x="628.8" y="180.9" width="2" height="1.6" fill="#bbb"/><path d="M627,151 L636,152 L636,160 L627,159 Z" fill="#ccc" stroke="#777" stroke-width="0.8"/><rect x="615" y="190" width="4" height="4" fill="#666"/><rect x="622" y="192" width="5" height="4" fill="#555"/><rect x="617" y="199" width="5" height="3" fill="#888"/><rect x="627" y="198" width="4" height="5" fill="#777"/><rect x="614" y="222" width="120" height="37" fill="#f7f7f7"/><rect x="630" y="223.3" width="83" height="2.4" fill="#222"/><rect x="631" y="228.2" width="81" height="2.6" fill="#333"/><rect x="631" y="232.8" width="80" height="2.4" fill="#555"/><rect x="629.2" y="240.5" width="85.9" height="17" rx="3" fill="#0a0a0a"/><path d="M613,229 L621,229 L621,243 L623,248 L620,255 L613,255 L611,248 L613,243 Z" fill="#333"/><path d="M722,234 L731,234 L731,244 L733,250 L730,257 L722,257 L720,250 L722,244 Z" fill="#555"/></g><g style="mix-blend-mode:multiply"><g fill="#ebebeb" style='font-family:"Liberation Serif";font-weight:bold;font-size:16.5px'><text x="0" y="0" transform="matrix(0.9799,-0.1994,0.5100,0.8833,-81.6,3.7)" textLength="190" lengthAdjust="spacing">WWW.100Y.COM.TW</text><text x="0" y="0" transform="matrix(0.9799,-0.1994,0.5100,0.8833,-71.9,29.3)" textLength="190" lengthAdjust="spacing">WWW.100Y.COM.TW</text><text x="0" y="0" transform="matrix(0.9799,-0.1994,0.5100,0.8833,-62.2,54.9)" textLength="190" lengthAdjust="spacing">WWW.100Y.COM.TW</text><text x="0" y="0" transform="matrix(0.9799,-0.1994,0.5100,0.8833,-52.5,80.5)" textLength="190" lengthAdjust="spacing">WWW.100Y.COM.TW</text><text x="0" y="0" transform="matrix(0.9799,-0.1994,0.5100,0.8833,-42.8,106.1)" textLength="190" lengthAdjust="spacing">WWW.100Y.COM.TW</text><text x="0" y="0" transform="matrix(0.9799,-0.1994,0.5100,0.8833,-33.1,131.7)" textLength="190" lengthAdjust="spacing">WWW.100Y.COM.TW</text><text x="0" y="0" transform="matrix(0.9799,-0.1994,0.5100,0.8833,-23.4,157.3)" textLength="190" lengthAdjust="spacing">WWW.100Y.COM.TW</text><text x="0" y="0" transform="matrix(0.9799,-0.1994,0.5100,0.8833,-13.7,182.9)" textLength="190" lengthAdjust="spacing">WWW.100Y.COM.TW</text><text x="0" y="0" transform="matrix(0.9799,-0.1994,0.5100,0.8833,-4.0,208.5)" textLength="190" lengthAdjust="spacing">WWW.100Y.COM.TW</text><text x="0" y="0" transform="matrix(0.9799,-0.1994,0.5100,0.8833,5.7,234.1)" textLength="190" lengthAdjust="spacing">WWW.100Y.COM.TW</text><text x="0" y="0" transform="matrix(0.9799,-0.1994,0.5100,0.8833,15.4,259.7)" textLength="190" lengthAdjust="spacing">WWW.100Y.COM.TW</text><text x="0" y="0" transform="matrix(0.9799,-0.1994,0.5100,0.8833,25.1,285.3)" textLength="190" lengthAdjust="spacing">WWW.100Y.COM.TW</text><text x="0" y="0" transform="matrix(0.9799,-0.1994,0.5100,0.8833,34.8,310.9)" textLength="190" lengthAdjust="spacing">WWW.100Y.COM.TW</text><text x="0" y="0" transform="matrix(0.9799,-0.1994,0.5100,0.8833,44.5,336.5)" textLength="190" lengthAdjust="spacing">WWW.100Y.COM.TW</text><text x="0" y="0" transform="matrix(0.9799,-0.1994,0.5100,0.8833,54.2,362.1)" textLength="190" lengthAdjust="spacing">WWW.100Y.COM.TW</text><text x="0" y="0" transform="matrix(0.9799,-0.1994,0.5100,0.8833,63.9,387.7)" textLength="190" lengthAdjust="spacing">WWW.100Y.COM.TW</text><text x="0" y="0" transform="matrix(0.9799,-0.1994,0.5100,0.8833,73.6,413.3)" textLength="190" lengthAdjust="spacing">WWW.100Y.COM.TW</text><text x="0" y="0" transform="matrix(0.9799,-0.1994,0.5100,0.8833,83.3,438.9)" textLength="190" lengthAdjust="spacing">WWW.100Y.COM.TW</text><text x="0" y="0" transform="matrix(0.9799,-0.1994,0.5100,0.8833,93.0,464.5)" textLength="190" lengthAdjust="spacing">WWW.100Y.COM.TW</text><text x="0" y="0" transform="matrix(0.9799,-0.1994,0.5100,0.8833,102.7,490.1)" textLength="190" lengthAdjust="spacing">WWW.100Y.COM.TW</text><text x="0" y="0" transform="matrix(0.9799,-0.1994,0.5100,0.8833,112.5,515.7)" textLength="190" lengthAdjust="spacing">WWW.100Y.COM.TW</text><text x="0" y="0" transform="matrix(0.9799,-0.1994,0.5100,0.8833,122.2,541.3)" textLength="190" lengthAdjust="spacing">WWW.100Y.COM.TW</text><text x="0" y="0" transform="matrix(0.9799,-0.1994,0.5100,0.8833,131.9,566.9)" textLength="190" lengthAdjust="spacing">WWW.100Y.COM.TW</text><text x="0" y="0" transform="matrix(0.9799,-0.1994,0.5100,0.8833,141.6,592.5)" textLength="190" lengthAdjust="spacing">WWW.100Y.COM.TW</text><text x="0" y="0" transform="matrix(0.9799,-0.1994,0.5100,0.8833,151.3,618.1)" textLength="190" lengthAdjust="spacing">WWW.100Y.COM.TW</text><text x="0" y="0" transform="matrix(0.9799,-0.1994,0.5100,0.8833,161.0,643.7)" textLength="190" lengthAdjust="spacing">WWW.100Y.COM.TW</text><text x="0" y="0" transform="matrix(0.9799,-0.1994,0.5100,0.8833,170.7,669.3)" textLength="190" lengthAdjust="spacing">WWW.100Y.COM.TW</text><text x="0" y="0" transform="matrix(0.9799,-0.1994,0.5100,0.8833,180.4,694.9)" textLength="190" lengthAdjust="spacing">WWW.100Y.COM.TW</text><text x="0" y="0" transform="matrix(0.9799,-0.1994,0.5100,0.8833,190.1,720.5)" textLength="190" lengthAdjust="spacing">WWW.100Y.COM.TW</text><text x="0" y="0" transform="matrix(0.9799,-0.1994,0.5100,0.8833,199.8,746.1)" textLength="190" lengthAdjust="spacing">WWW.100Y.COM.TW</text><text x="0" y="0" transform="matrix(0.9799,-0.1994,0.5100,0.8833,209.5,771.7)" textLength="190" lengthAdjust="spacing">WWW.100Y.COM.TW</text><text x="0" y="0" transform="matrix(0.9799,-0.1994,0.5100,0.8833,219.2,797.3)" textLength="190" lengthAdjust="spacing">WWW.100Y.COM.TW</text><text x="0" y="0" transform="matrix(0.9799,-0.1994,0.5100,0.8833,228.9,822.9)" textLength="190" lengthAdjust="spacing">WWW.100Y.COM.TW</text><text x="0" y="0" transform="matrix(0.9799,-0.1994,0.5100,0.8833,238.6,848.5)" textLength="190" lengthAdjust="spacing">WWW.100Y.COM.TW</text><text x="0" y="0" transform="matrix(0.9799,-0.1994,0.5100,0.8833,248.3,874.1)" textLength="190" lengthAdjust="spacing">WWW.100Y.COM.TW</text><text x="0" y="0" transform="matrix(0.9799,-0.1994,0.5100,0.8833,258.0,899.7)" textLength="190" lengthAdjust="spacing">WWW.100Y.COM.TW</text><text x="0" y="0" transform="matrix(0.9799,-0.1994,0.5100,0.8833,267.7,925.3)" textLength="190" lengthAdjust="spacing">WWW.100Y.COM.TW</text><text x="0" y="0" transform="matrix(0.9799,-0.1994,0.5100,0.8833,277.4,950.9)" textLength="190" lengthAdjust="spacing">WWW.100Y.COM.TW</text><text x="0" y="0" transform="matrix(0.9799,-0.1994,0.5100,0.8833,167.4,3.7)" textLength="190" lengthAdjust="spacing">WWW.100Y.COM.TW</text><text x="0" y="0" transform="matrix(0.9799,-0.1994,0.5100,0.8833,177.1,29.3)" textLength="190" lengthAdjust="spacing">WWW.100Y.COM.TW</text><text x="0" y="0" transform="matrix(0.9799,-0.1994,0.5100,0.8833,186.8,54.9)" textLength="190" lengthAdjust="spacing">WWW.100Y.COM.TW</text><text x="0" y="0" transform="matrix(0.9799,-0.1994,0.5100,0.8833,196.5,80.5)" textLength="190" lengthAdjust="spacing">WWW.100Y.COM.TW</text><text x="0" y="0" transform="matrix(0.9799,-0.1994,0.5100,0.8833,206.2,106.1)" textLength="190" lengthAdjust="spacing">WWW.100Y.COM.TW</text><text x="0" y="0" transform="matrix(0.9799,-0.1994,0.5100,0.8833,215.9,131.7)" textLength="190" lengthAdjust="spacing">WWW.100Y.COM.TW</text><text x="0" y="0" transform="matrix(0.9799,-0.1994,0.5100,0.8833,225.6,157.3)" textLength="190" lengthAdjust="spacing">WWW.100Y.COM.TW</text><text x="0" y="0" transform="matrix(0.9799,-0.1994,0.5100,0.8833,235.3,182.9)" textLength="190" lengthAdjust="spacing">WWW.100Y.COM.TW</text><text x="0" y="0" transform="matrix(0.9799,-0.1994,0.5100,0.8833,245.0,208.5)" textLength="190" lengthAdjust="spacing">WWW.100Y.COM.TW</text><text x="0" y="0" transform="matrix(0.9799,-0.1994,0.5100,0.8833,254.7,234.1)" textLength="190" lengthAdjust="spacing">WWW.100Y.COM.TW</text><text x="0" y="0" transform="matrix(0.9799,-0.1994,0.5100,0.8833,264.4,259.7)" textLength="190" lengthAdjust="spacing">WWW.100Y.COM.TW</text><text x="0" y="0" transform="matrix(0.9799,-0.1994,0.5100,0.8833,274.1,285.3)" textLength="190" lengthAdjust="spacing">WWW.100Y.COM.TW</text><text x="0" y="0" transform="matrix(0.9799,-0.1994,0.5100,0.8833,283.8,310.9)" textLength="190" lengthAdjust="spacing">WWW.100Y.COM.TW</text><text x="0" y="0" transform="matrix(0.9799,-0.1994,0.5100,0.8833,293.5,336.5)" textLength="190" lengthAdjust="spacing">WWW.100Y.COM.TW</text><text x="0" y="0" transform="matrix(0.9799,-0.1994,0.5100,0.8833,303.2,362.1)" textLength="190" lengthAdjust="spacing">WWW.100Y.COM.TW</text><text x="0" y="0" transform="matrix(0.9799,-0.1994,0.5100,0.8833,312.9,387.7)" textLength="190" lengthAdjust="spacing">WWW.100Y.COM.TW</text><text x="0" y="0" transform="matrix(0.9799,-0.1994,0.5100,0.8833,322.6,413.3)" textLength="190" lengthAdjust="spacing">WWW.100Y.COM.TW</text><text x="0" y="0" transform="matrix(0.9799,-0.1994,0.5100,0.8833,332.3,438.9)" textLength="190" lengthAdjust="spacing">WWW.100Y.COM.TW</text><text x="0" y="0" transform="matrix(0.9799,-0.1994,0.5100,0.8833,342.0,464.5)" textLength="190" lengthAdjust="spacing">WWW.100Y.COM.TW</text><text x="0" y="0" transform="matrix(0.9799,-0.1994,0.5100,0.8833,351.7,490.1)" textLength="190" lengthAdjust="spacing">WWW.100Y.COM.TW</text><text x="0" y="0" transform="matrix(0.9799,-0.1994,0.5100,0.8833,361.5,515.7)" textLength="190" lengthAdjust="spacing">WWW.100Y.COM.TW</text><text x="0" y="0" transform="matrix(0.9799,-0.1994,0.5100,0.8833,371.2,541.3)" textLength="190" lengthAdjust="spacing">WWW.100Y.COM.TW</text><text x="0" y="0" transform="matrix(0.9799,-0.1994,0.5100,0.8833,380.9,566.9)" textLength="190" lengthAdjust="spacing">WWW.100Y.COM.TW</text><text x="0" y="0" transform="matrix(0.9799,-0.1994,0.5100,0.8833,390.6,592.5)" textLength="190" lengthAdjust="spacing">WWW.100Y.COM.TW</text><text x="0" y="0" transform="matrix(0.9799,-0.1994,0.5100,0.8833,400.3,618.1)" textLength="190" lengthAdjust="spacing">WWW.100Y.COM.TW</text><text x="0" y="0" transform="matrix(0.9799,-0.1994,0.5100,0.8833,410.0,643.7)" textLength="190" lengthAdjust="spacing">WWW.100Y.COM.TW</text><text x="0" y="0" transform="matrix(0.9799,-0.1994,0.5100,0.8833,419.7,669.3)" textLength="190" lengthAdjust="spacing">WWW.100Y.COM.TW</text><text x="0" y="0" transform="matrix(0.9799,-0.1994,0.5100,0.8833,429.4,694.9)" textLength="190" lengthAdjust="spacing">WWW.100Y.COM.TW</text><text x="0" y="0" transform="matrix(0.9799,-0.1994,0.5100,0.8833,439.1,720.5)" textLength="190" lengthAdjust="spacing">WWW.100Y.COM.TW</text><text x="0" y="0" transform="matrix(0.9799,-0.1994,0.5100,0.8833,448.8,746.1)" textLength="190" lengthAdjust="spacing">WWW.100Y.COM.TW</text><text x="0" y="0" transform="matrix(0.9799,-0.1994,0.5100,0.8833,458.5,771.7)" textLength="190" lengthAdjust="spacing">WWW.100Y.COM.TW</text><text x="0" y="0" transform="matrix(0.9799,-0.1994,0.5100,0.8833,468.2,797.3)" textLength="190" lengthAdjust="spacing">WWW.100Y.COM.TW</text><text x="0" y="0" transform="matrix(0.9799,-0.1994,0.5100,0.8833,477.9,822.9)" textLength="190" lengthAdjust="spacing">WWW.100Y.COM.TW</text><text x="0" y="0" transform="matrix(0.9799,-0.1994,0.5100,0.8833,416.4,3.7)" textLength="190" lengthAdjust="spacing">WWW.100Y.COM.TW</text><text x="0" y="0" transform="matrix(0.9799,-0.1994,0.5100,0.8833,426.1,29.3)" textLength="190" lengthAdjust="spacing">WWW.100Y.COM.TW</text><text x="0" y="0" transform="matrix(0.9799,-0.1994,0.5100,0.8833,435.8,54.9)" textLength="190" lengthAdjust="spacing">WWW.100Y.COM.TW</text><text x="0" y="0" transform="matrix(0.9799,-0.1994,0.5100,0.8833,445.5,80.5)" textLength="190" lengthAdjust="spacing">WWW.100Y.COM.TW</text><text x="0" y="0" transform="matrix(0.9799,-0.1994,0.5100,0.8833,455.2,106.1)" textLength="190" lengthAdjust="spacing">WWW.100Y.COM.TW</text><text x="0" y="0" transform="matrix(0.9799,-0.1994,0.5100,0.8833,464.9,131.7)" textLength="190" lengthAdjust="spacing">WWW.100Y.COM.TW</text><text x="0" y="0" transform="matrix(0.9799,-0.1994,0.5100,0.8833,474.6,157.3)" textLength="190" lengthAdjust="spacing">WWW.100Y.COM.TW</text><text x="0" y="0" transform="matrix(0.9799,-0.1994,0.5100,0.8833,484.3,182.9)" textLength="190" lengthAdjust="spacing">WWW.100Y.COM.TW</text><text x="0" y="0" transform="matrix(0.9799,-0.1994,0.5100,0.8833,494.0,208.5)" textLength="190" lengthAdjust="spacing">WWW.100Y.COM.TW</text><text x="0" y="0" transform="matrix(0.9799,-0.1994,0.5100,0.8833,503.7,234.1)" textLength="190" lengthAdjust="spacing">WWW.100Y.COM.TW</text><text x="0" y="0" transform="matrix(0.9799,-0.1994,0.5100,0.8833,513.4,259.7)" textLength="190" lengthAdjust="spacing">WWW.100Y.COM.TW</text><text x="0" y="0" transform="matrix(0.9799,-0.1994,0.5100,0.8833,523.1,285.3)" textLength="190" lengthAdjust="spacing">WWW.100Y.COM.TW</text><text x="0" y="0" transform="matrix(0.9799,-0.1994,0.5100,0.8833,532.8,310.9)" textLength="190" lengthAdjust="spacing">WWW.100Y.COM.TW</text><text x="0" y="0" transform="matrix(0.9799,-0.1994,0.5100,0.8833,542.5,336.5)" textLength="190" lengthAdjust="spacing">WWW.100Y.COM.TW</text><text x="0" y="0" transform="matrix(0.9799,-0.1994,0.5100,0.8833,552.2,362.1)" textLength="190" lengthAdjust="spacing">WWW.100Y.COM.TW</text><text x="0" y="0" transform="matrix(0.9799,-0.1994,0.5100,0.8833,561.9,387.7)" textLength="190" lengthAdjust="spacing">WWW.100Y.COM.TW</text><text x="0" y="0" transform="matrix(0.9799,-0.1994,0.5100,0.8833,571.6,413.3)" textLength="190" lengthAdjust="spacing">WWW.100Y.COM.TW</text><text x="0" y="0" transform="matrix(0.9799,-0.1994,0.5100,0.8833,581.3,438.9)" textLength="190" lengthAdjust="spacing">WWW.100Y.COM.TW</text><text x="0" y="0" transform="matrix(0.9799,-0.1994,0.5100,0.8833,591.0,464.5)" textLength="190" lengthAdjust="spacing">WWW.100Y.COM.TW</text><text x="0" y="0" transform="matrix(0.9799,-0.1994,0.5100,0.8833,600.7,490.1)" textLength="190" lengthAdjust="spacing">WWW.100Y.COM.TW</text><text x="0" y="0" transform="matrix(0.9799,-0.1994,0.5100,0.8833,610.5,515.7)" textLength="190" lengthAdjust="spacing">WWW.100Y.COM.TW</text><text x="0" y="0" transform="matrix(0.9799,-0.1994,0.5100,0.8833,620.2,541.3)" textLength="190" lengthAdjust="spacing">WWW.100Y.COM.TW</text><text x="0" y="0" transform="matrix(0.9799,-0.1994,0.5100,0.8833,629.9,566.9)" textLength="190" lengthAdjust="spacing">WWW.100Y.COM.TW</text><text x="0" y="0" transform="matrix(0.9799,-0.1994,0.5100,0.8833,639.6,592.5)" textLength="190" lengthAdjust="spacing">WWW.100Y.COM.TW</text><text x="0" y="0" transform="matrix(0.9799,-0.1994,0.5100,0.8833,649.3,618.1)" textLength="190" lengthAdjust="spacing">WWW.100Y.COM.TW</text><text x="0" y="0" transform="matrix(0.9799,-0.1994,0.5100,0.8833,659.0,643.7)" textLength="190" lengthAdjust="spacing">WWW.100Y.COM.TW</text><text x="0" y="0" transform="matrix(0.9799,-0.1994,0.5100,0.8833,668.7,669.3)" textLength="190" lengthAdjust="spacing">WWW.100Y.COM.TW</text><text x="0" y="0" transform="matrix(0.9799,-0.1994,0.5100,0.8833,678.4,694.9)" textLength="190" lengthAdjust="spacing">WWW.100Y.COM.TW</text><text x="0" y="0" transform="matrix(0.9799,-0.1994,0.5100,0.8833,688.1,720.5)" textLength="190" lengthAdjust="spacing">WWW.100Y.COM.TW</text><text x="0" y="0" transform="matrix(0.9799,-0.1994,0.5100,0.8833,697.8,746.1)" textLength="190" lengthAdjust="spacing">WWW.100Y.COM.TW</text><text x="0" y="0" transform="matrix(0.9799,-0.1994,0.5100,0.8833,707.5,771.7)" textLength="190" lengthAdjust="spacing">WWW.100Y.COM.TW</text><text x="0" y="0" transform="matrix(0.9799,-0.1994,0.5100,0.8833,717.2,797.3)" textLength="190" lengthAdjust="spacing">WWW.100Y.COM.TW</text></g></g></svg></body></html>
